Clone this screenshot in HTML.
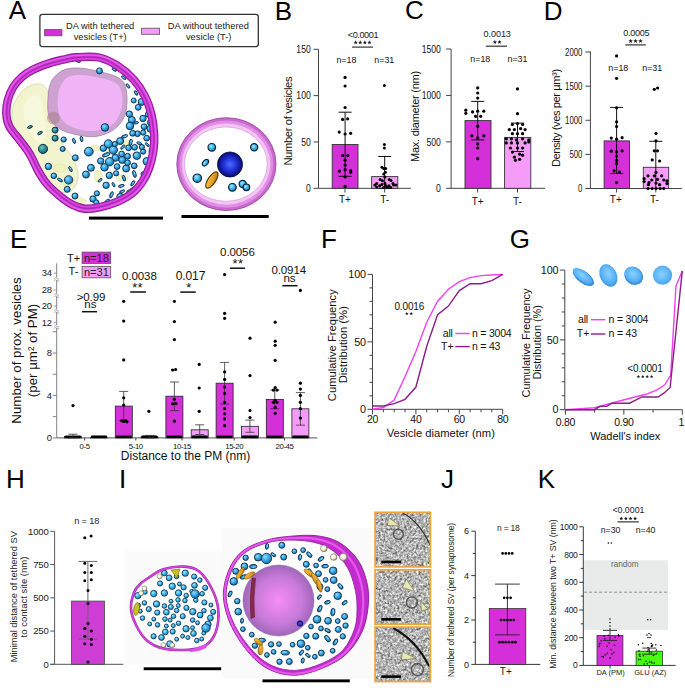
<!DOCTYPE html>
<html><head><meta charset="utf-8"><style>
html,body{margin:0;padding:0;background:#fff;overflow:hidden}
svg{display:block}
text{font-family:"Liberation Sans",sans-serif}
</style></head><body>
<svg width="685" height="688" viewBox="0 0 685 688">
<defs><radialGradient id="gBlue" cx="0.38" cy="0.35" r="0.7"><stop offset="0" stop-color="#8fdcff"/><stop offset="0.55" stop-color="#2ea0e0"/><stop offset="1" stop-color="#176a9e"/></radialGradient><radialGradient id="gCyan" cx="0.38" cy="0.35" r="0.7"><stop offset="0" stop-color="#a6ecff"/><stop offset="0.5" stop-color="#3cb6ea"/><stop offset="1" stop-color="#1b78b0"/></radialGradient><radialGradient id="gTeal" cx="0.38" cy="0.35" r="0.7"><stop offset="0" stop-color="#6fc8c0"/><stop offset="0.55" stop-color="#2a8a90"/><stop offset="1" stop-color="#1b4f5e"/></radialGradient><radialGradient id="gNavy" cx="0.5" cy="0.5" r="0.55"><stop offset="0" stop-color="#4a6cff"/><stop offset="0.45" stop-color="#2234d8"/><stop offset="0.8" stop-color="#10128a"/><stop offset="1" stop-color="#050528"/></radialGradient><radialGradient id="gNuc" cx="0.5" cy="0.5" r="0.55"><stop offset="0" stop-color="#f78cf5"/><stop offset="0.6" stop-color="#c87ad8"/><stop offset="1" stop-color="#9560b2"/></radialGradient><linearGradient id="gOr" x1="0" y1="0" x2="1" y2="1"><stop offset="0" stop-color="#ffd040"/><stop offset="0.6" stop-color="#e09a20"/><stop offset="1" stop-color="#8a5a10"/></linearGradient><radialGradient id="gBeige" cx="0.4" cy="0.4" r="0.6"><stop offset="0" stop-color="#ffffff"/><stop offset="0.6" stop-color="#f2f0d8"/><stop offset="1" stop-color="#8a8a70"/></radialGradient><radialGradient id="gSh" cx="0.45" cy="0.45" r="0.6"><stop offset="0" stop-color="#8ad2ff"/><stop offset="0.7" stop-color="#58b2f6"/><stop offset="1" stop-color="#449eea"/></radialGradient><filter id="noise" x="0" y="0" width="1" height="1" color-interpolation-filters="sRGB"><feTurbulence type="fractalNoise" baseFrequency="0.42" numOctaves="3" seed="4"/><feColorMatrix type="matrix" values="0.68 0.68 0 0 0.02  0.68 0.68 0 0 0.02  0.68 0.68 0 0 0.02  0 0 0 0 1"/></filter></defs>
<text x="8.75" y="18.80" font-size="26" fill="#000">A</text>
<text x="274.87" y="19.60" font-size="26" fill="#000">B</text>
<text x="405.07" y="19.40" font-size="26" fill="#000">C</text>
<text x="543.67" y="19.80" font-size="26" fill="#000">D</text>
<text x="9.97" y="248.00" font-size="26" fill="#000">E</text>
<text x="320.97" y="247.80" font-size="26" fill="#000">F</text>
<text x="509.80" y="247.60" font-size="26" fill="#000">G</text>
<text x="6.07" y="487.90" font-size="26" fill="#000">H</text>
<text x="118.91" y="487.70" font-size="26" fill="#000">I</text>
<text x="440.98" y="488.20" font-size="26" fill="#000">J</text>
<text x="537.87" y="488.40" font-size="26" fill="#000">K</text>
<line x1="318.50" y1="49.30" x2="318.50" y2="188.30" stroke="#444" stroke-width="1" />
<line x1="313.50" y1="188.30" x2="318.50" y2="188.30" stroke="#444" stroke-width="1" />
<text transform="translate(310.70,192.12) scale(0.79,1)" font-size="10.9" text-anchor="end" fill="#111">0</text>
<line x1="313.50" y1="141.97" x2="318.50" y2="141.97" stroke="#444" stroke-width="1" />
<text transform="translate(310.70,145.78) scale(0.79,1)" font-size="10.9" text-anchor="end" fill="#111">50</text>
<line x1="313.50" y1="95.63" x2="318.50" y2="95.63" stroke="#444" stroke-width="1" />
<text transform="translate(310.70,99.45) scale(0.79,1)" font-size="10.9" text-anchor="end" fill="#111">100</text>
<line x1="313.50" y1="49.30" x2="318.50" y2="49.30" stroke="#444" stroke-width="1" />
<text transform="translate(310.70,53.12) scale(0.79,1)" font-size="10.9" text-anchor="end" fill="#111">150</text>
<line x1="318.50" y1="188.30" x2="410.90" y2="188.30" stroke="#444" stroke-width="1" />
<rect x="332.20" y="144.50" width="25.80" height="43.80" fill="#d42fd8" stroke="#333" stroke-width="0.9" />
<rect x="371.60" y="176.60" width="26.20" height="11.70" fill="#f59cf9" stroke="#333" stroke-width="0.9" />
<line x1="345.00" y1="188.30" x2="345.00" y2="192.50" stroke="#444" stroke-width="1" />
<line x1="384.70" y1="188.30" x2="384.70" y2="192.50" stroke="#444" stroke-width="1" />
<text x="345.00" y="203.00" font-size="10" text-anchor="middle" fill="#111" >T+</text>
<text x="384.70" y="203.00" font-size="10" text-anchor="middle" fill="#111" >T-</text>
<text transform="translate(292.42,121.20) rotate(-90)" font-size="11.2" text-anchor="middle" fill="#111" letter-spacing="-0.35">Number of vesicles</text>
<text x="346.40" y="62.91" font-size="8.9" text-anchor="middle" fill="#111" >n=18</text>
<text x="384.30" y="62.91" font-size="8.9" text-anchor="middle" fill="#111" >n=31</text>
<text x="362.90" y="38.48" font-size="9.1" text-anchor="middle" fill="#222" letter-spacing="-0.4" >&lt;0.0001</text>
<polygon points="355.65,40.36 356.23,41.76 357.74,41.88 356.59,42.87 356.94,44.34 355.65,43.55 354.36,44.34 354.71,42.87 353.56,41.88 355.07,41.76" fill="#222"/>
<polygon points="360.25,40.36 360.83,41.76 362.34,41.88 361.19,42.87 361.54,44.34 360.25,43.55 358.96,44.34 359.31,42.87 358.16,41.88 359.67,41.76" fill="#222"/>
<polygon points="364.85,40.36 365.43,41.76 366.94,41.88 365.79,42.87 366.14,44.34 364.85,43.55 363.56,44.34 363.91,42.87 362.76,41.88 364.27,41.76" fill="#222"/>
<polygon points="369.45,40.36 370.03,41.76 371.54,41.88 370.39,42.87 370.74,44.34 369.45,43.55 368.16,44.34 368.51,42.87 367.36,41.88 368.87,41.76" fill="#222"/>
<line x1="352.10" y1="47.10" x2="373.00" y2="47.10" stroke="#333" stroke-width="1.2" />
<line x1="345.10" y1="112.20" x2="345.10" y2="176.30" stroke="#111" stroke-width="1" />
<line x1="338.60" y1="112.20" x2="351.60" y2="112.20" stroke="#111" stroke-width="1" />
<line x1="338.60" y1="176.30" x2="351.60" y2="176.30" stroke="#111" stroke-width="1" />
<line x1="384.70" y1="156.50" x2="384.70" y2="188.30" stroke="#111" stroke-width="1" />
<line x1="378.20" y1="156.50" x2="391.20" y2="156.50" stroke="#111" stroke-width="1" />
<line x1="378.20" y1="188.30" x2="391.20" y2="188.30" stroke="#111" stroke-width="1" />
<circle cx="345.10" cy="77.40" r="1.6" fill="#000"/>
<circle cx="345.10" cy="86.00" r="1.6" fill="#000"/>
<circle cx="345.10" cy="107.50" r="1.6" fill="#000"/>
<circle cx="342.60" cy="119.40" r="1.6" fill="#000"/>
<circle cx="347.70" cy="118.80" r="1.6" fill="#000"/>
<circle cx="339.20" cy="132.10" r="1.6" fill="#000"/>
<circle cx="345.10" cy="134.00" r="1.6" fill="#000"/>
<circle cx="350.60" cy="133.30" r="1.6" fill="#000"/>
<circle cx="342.60" cy="155.50" r="1.6" fill="#000"/>
<circle cx="347.70" cy="155.50" r="1.6" fill="#000"/>
<circle cx="345.10" cy="160.20" r="1.6" fill="#000"/>
<circle cx="345.10" cy="165.00" r="1.6" fill="#000"/>
<circle cx="339.40" cy="171.20" r="1.6" fill="#000"/>
<circle cx="345.10" cy="169.70" r="1.6" fill="#000"/>
<circle cx="350.60" cy="170.60" r="1.6" fill="#000"/>
<circle cx="350.60" cy="172.20" r="1.6" fill="#000"/>
<circle cx="345.10" cy="176.90" r="1.6" fill="#000"/>
<circle cx="345.10" cy="186.40" r="1.6" fill="#000"/>
<circle cx="384.40" cy="85.40" r="1.5" fill="#000"/>
<circle cx="384.40" cy="144.50" r="1.5" fill="#000"/>
<circle cx="384.40" cy="147.90" r="1.5" fill="#000"/>
<circle cx="381.90" cy="167.30" r="1.5" fill="#000"/>
<circle cx="383.70" cy="168.50" r="1.5" fill="#000"/>
<circle cx="385.70" cy="168.50" r="1.5" fill="#000"/>
<circle cx="385.40" cy="172.30" r="1.5" fill="#000"/>
<circle cx="383.70" cy="174.00" r="1.5" fill="#000"/>
<circle cx="384.90" cy="176.90" r="1.5" fill="#000"/>
<circle cx="380.20" cy="179.60" r="1.5" fill="#000"/>
<circle cx="382.50" cy="180.70" r="1.5" fill="#000"/>
<circle cx="389.20" cy="179.60" r="1.5" fill="#000"/>
<circle cx="391.00" cy="180.40" r="1.5" fill="#000"/>
<circle cx="376.70" cy="183.40" r="1.5" fill="#000"/>
<circle cx="374.90" cy="185.10" r="1.5" fill="#000"/>
<circle cx="376.70" cy="186.90" r="1.5" fill="#000"/>
<circle cx="379.60" cy="185.70" r="1.5" fill="#000"/>
<circle cx="381.90" cy="184.50" r="1.5" fill="#000"/>
<circle cx="384.90" cy="183.40" r="1.5" fill="#000"/>
<circle cx="386.00" cy="185.70" r="1.5" fill="#000"/>
<circle cx="383.70" cy="187.40" r="1.5" fill="#000"/>
<circle cx="387.20" cy="187.40" r="1.5" fill="#000"/>
<circle cx="389.00" cy="185.70" r="1.5" fill="#000"/>
<circle cx="390.70" cy="187.40" r="1.5" fill="#000"/>
<circle cx="393.00" cy="183.40" r="1.5" fill="#000"/>
<circle cx="393.60" cy="185.10" r="1.5" fill="#000"/>
<circle cx="396.00" cy="185.10" r="1.5" fill="#000"/>
<line x1="451.10" y1="49.00" x2="451.10" y2="188.30" stroke="#444" stroke-width="1" />
<line x1="446.10" y1="188.30" x2="451.10" y2="188.30" stroke="#444" stroke-width="1" />
<text transform="translate(440.90,192.22) scale(0.77,1)" font-size="11.2" text-anchor="end" fill="#111">0</text>
<line x1="446.10" y1="141.87" x2="451.10" y2="141.87" stroke="#444" stroke-width="1" />
<text transform="translate(440.90,145.79) scale(0.77,1)" font-size="11.2" text-anchor="end" fill="#111">500</text>
<line x1="446.10" y1="95.43" x2="451.10" y2="95.43" stroke="#444" stroke-width="1" />
<text transform="translate(440.90,99.35) scale(0.77,1)" font-size="11.2" text-anchor="end" fill="#111">1000</text>
<line x1="446.10" y1="49.00" x2="451.10" y2="49.00" stroke="#444" stroke-width="1" />
<text transform="translate(440.90,52.92) scale(0.77,1)" font-size="11.2" text-anchor="end" fill="#111">1500</text>
<line x1="451.10" y1="188.30" x2="545.00" y2="188.30" stroke="#444" stroke-width="1" />
<rect x="465.00" y="120.60" width="26.00" height="67.70" fill="#d42fd8" stroke="#333" stroke-width="0.9" />
<rect x="504.60" y="137.40" width="26.20" height="50.90" fill="#f59cf9" stroke="#333" stroke-width="0.9" />
<line x1="477.70" y1="188.30" x2="477.70" y2="192.50" stroke="#444" stroke-width="1" />
<line x1="517.50" y1="188.30" x2="517.50" y2="192.50" stroke="#444" stroke-width="1" />
<text x="477.70" y="205.10" font-size="10" text-anchor="middle" fill="#111" >T+</text>
<text x="517.50" y="205.10" font-size="10" text-anchor="middle" fill="#111" >T-</text>
<text transform="translate(419.45,116.50) rotate(-90)" font-size="11" text-anchor="middle" fill="#111" letter-spacing="-0.25">Max. diameter (nm)</text>
<text x="480.30" y="62.41" font-size="8.9" text-anchor="middle" fill="#111" >n=18</text>
<text x="517.50" y="62.41" font-size="8.9" text-anchor="middle" fill="#111" >n=31</text>
<text x="497.20" y="36.98" font-size="9.1" text-anchor="middle" fill="#222" letter-spacing="-0.1" >0.0013</text>
<polygon points="494.90,39.91 495.48,41.31 496.99,41.43 495.84,42.42 496.19,43.89 494.90,43.10 493.61,43.89 493.96,42.42 492.81,41.43 494.32,41.31" fill="#222"/>
<polygon points="499.50,39.91 500.08,41.31 501.59,41.43 500.44,42.42 500.79,43.89 499.50,43.10 498.21,43.89 498.56,42.42 497.41,41.43 498.92,41.31" fill="#222"/>
<line x1="485.80" y1="46.20" x2="507.00" y2="46.20" stroke="#333" stroke-width="1.2" />
<line x1="477.70" y1="101.40" x2="477.70" y2="139.90" stroke="#111" stroke-width="1" />
<line x1="471.20" y1="101.40" x2="484.20" y2="101.40" stroke="#111" stroke-width="1" />
<line x1="471.20" y1="139.90" x2="484.20" y2="139.90" stroke="#111" stroke-width="1" />
<line x1="517.50" y1="123.10" x2="517.50" y2="151.50" stroke="#111" stroke-width="1" />
<line x1="511.00" y1="123.10" x2="524.00" y2="123.10" stroke="#111" stroke-width="1" />
<line x1="511.00" y1="151.50" x2="524.00" y2="151.50" stroke="#111" stroke-width="1" />
<circle cx="477.70" cy="87.90" r="1.6" fill="#000"/>
<circle cx="477.70" cy="93.00" r="1.6" fill="#000"/>
<circle cx="477.70" cy="98.10" r="1.6" fill="#000"/>
<circle cx="465.80" cy="110.20" r="1.6" fill="#000"/>
<circle cx="465.80" cy="113.30" r="1.6" fill="#000"/>
<circle cx="472.60" cy="111.90" r="1.6" fill="#000"/>
<circle cx="477.70" cy="111.20" r="1.6" fill="#000"/>
<circle cx="483.80" cy="111.20" r="1.6" fill="#000"/>
<circle cx="475.60" cy="116.30" r="1.6" fill="#000"/>
<circle cx="480.70" cy="116.30" r="1.6" fill="#000"/>
<circle cx="477.70" cy="126.20" r="1.6" fill="#000"/>
<circle cx="471.90" cy="135.80" r="1.6" fill="#000"/>
<circle cx="477.70" cy="137.80" r="1.6" fill="#000"/>
<circle cx="483.80" cy="135.80" r="1.6" fill="#000"/>
<circle cx="477.70" cy="143.90" r="1.6" fill="#000"/>
<circle cx="477.70" cy="148.00" r="1.6" fill="#000"/>
<circle cx="477.70" cy="158.70" r="1.6" fill="#000"/>
<circle cx="517.50" cy="88.90" r="1.6" fill="#000"/>
<circle cx="517.50" cy="113.70" r="1.6" fill="#000"/>
<circle cx="517.50" cy="123.50" r="1.6" fill="#000"/>
<circle cx="512.40" cy="124.50" r="1.6" fill="#000"/>
<circle cx="522.60" cy="124.50" r="1.6" fill="#000"/>
<circle cx="509.30" cy="129.60" r="1.6" fill="#000"/>
<circle cx="514.40" cy="129.60" r="1.6" fill="#000"/>
<circle cx="520.60" cy="128.60" r="1.6" fill="#000"/>
<circle cx="525.10" cy="129.60" r="1.6" fill="#000"/>
<circle cx="512.40" cy="133.70" r="1.6" fill="#000"/>
<circle cx="517.50" cy="133.70" r="1.6" fill="#000"/>
<circle cx="522.60" cy="133.70" r="1.6" fill="#000"/>
<circle cx="506.30" cy="138.80" r="1.6" fill="#000"/>
<circle cx="511.40" cy="138.80" r="1.6" fill="#000"/>
<circle cx="516.50" cy="139.90" r="1.6" fill="#000"/>
<circle cx="522.60" cy="138.80" r="1.6" fill="#000"/>
<circle cx="528.80" cy="139.90" r="1.6" fill="#000"/>
<circle cx="506.30" cy="142.90" r="1.6" fill="#000"/>
<circle cx="511.40" cy="142.90" r="1.6" fill="#000"/>
<circle cx="517.50" cy="142.90" r="1.6" fill="#000"/>
<circle cx="525.10" cy="142.90" r="1.6" fill="#000"/>
<circle cx="528.80" cy="141.90" r="1.6" fill="#000"/>
<circle cx="510.40" cy="148.00" r="1.6" fill="#000"/>
<circle cx="517.50" cy="148.00" r="1.6" fill="#000"/>
<circle cx="522.60" cy="148.00" r="1.6" fill="#000"/>
<circle cx="512.40" cy="152.10" r="1.6" fill="#000"/>
<circle cx="519.60" cy="154.20" r="1.6" fill="#000"/>
<circle cx="514.40" cy="157.20" r="1.6" fill="#000"/>
<circle cx="522.60" cy="155.20" r="1.6" fill="#000"/>
<circle cx="515.50" cy="160.30" r="1.6" fill="#000"/>
<circle cx="519.60" cy="159.30" r="1.6" fill="#000"/>
<line x1="590.40" y1="51.40" x2="590.40" y2="188.50" stroke="#444" stroke-width="1" />
<line x1="585.40" y1="188.50" x2="590.40" y2="188.50" stroke="#444" stroke-width="1" />
<text transform="translate(582.40,192.14) scale(0.75,1)" font-size="10.4" text-anchor="end" fill="#111">0</text>
<line x1="585.40" y1="154.38" x2="590.40" y2="154.38" stroke="#444" stroke-width="1" />
<text transform="translate(582.40,158.01) scale(0.75,1)" font-size="10.4" text-anchor="end" fill="#111">500</text>
<line x1="585.40" y1="120.25" x2="590.40" y2="120.25" stroke="#444" stroke-width="1" />
<text transform="translate(582.40,123.89) scale(0.75,1)" font-size="10.4" text-anchor="end" fill="#111">1000</text>
<line x1="585.40" y1="86.12" x2="590.40" y2="86.12" stroke="#444" stroke-width="1" />
<text transform="translate(582.40,89.77) scale(0.75,1)" font-size="10.4" text-anchor="end" fill="#111">1500</text>
<line x1="585.40" y1="52.00" x2="590.40" y2="52.00" stroke="#444" stroke-width="1" />
<text transform="translate(582.40,55.64) scale(0.75,1)" font-size="10.4" text-anchor="end" fill="#111">2000</text>
<line x1="590.40" y1="188.50" x2="681.80" y2="188.50" stroke="#444" stroke-width="1" />
<rect x="604.10" y="140.90" width="25.40" height="47.60" fill="#d42fd8" stroke="#333" stroke-width="0.9" />
<rect x="643.30" y="167.30" width="25.40" height="21.20" fill="#f59cf9" stroke="#333" stroke-width="0.9" />
<line x1="616.60" y1="188.50" x2="616.60" y2="192.50" stroke="#444" stroke-width="1" />
<line x1="655.80" y1="188.50" x2="655.80" y2="192.50" stroke="#444" stroke-width="1" />
<text x="615.80" y="203.00" font-size="10" text-anchor="middle" fill="#111" >T+</text>
<text x="654.50" y="203.00" font-size="10" text-anchor="middle" fill="#111" >T-</text>
<text transform="translate(559.62,118.20) rotate(-90)" font-size="11.2" text-anchor="middle" fill="#111" letter-spacing="-0.45">Density (ves per µm³)</text>
<text x="618.30" y="70.81" font-size="8.9" text-anchor="middle" fill="#111" >n=18</text>
<text x="652.20" y="70.81" font-size="8.9" text-anchor="middle" fill="#111" >n=31</text>
<text x="636.20" y="36.19" font-size="9.1" text-anchor="middle" fill="#222" letter-spacing="-0.3" >0.0005</text>
<polygon points="630.65,38.63 631.28,40.16 632.93,40.29 631.68,41.36 632.06,42.97 630.65,42.11 629.24,42.97 629.62,41.36 628.37,40.29 630.02,40.16" fill="#222"/>
<polygon points="635.55,38.63 636.18,40.16 637.83,40.29 636.58,41.36 636.96,42.97 635.55,42.11 634.14,42.97 634.52,41.36 633.27,40.29 634.92,40.16" fill="#222"/>
<polygon points="640.45,38.63 641.08,40.16 642.73,40.29 641.48,41.36 641.86,42.97 640.45,42.11 639.04,42.97 639.42,41.36 638.17,40.29 639.82,40.16" fill="#222"/>
<line x1="625.30" y1="44.90" x2="645.80" y2="44.90" stroke="#333" stroke-width="1.2" />
<line x1="616.60" y1="107.40" x2="616.60" y2="173.50" stroke="#111" stroke-width="1" />
<line x1="610.10" y1="107.40" x2="623.10" y2="107.40" stroke="#111" stroke-width="1" />
<line x1="610.10" y1="173.50" x2="623.10" y2="173.50" stroke="#111" stroke-width="1" />
<line x1="655.80" y1="141.30" x2="655.80" y2="188.50" stroke="#111" stroke-width="1" />
<line x1="649.30" y1="141.30" x2="662.30" y2="141.30" stroke="#111" stroke-width="1" />
<line x1="649.30" y1="188.50" x2="662.30" y2="188.50" stroke="#111" stroke-width="1" />
<circle cx="616.60" cy="55.90" r="1.6" fill="#000"/>
<circle cx="616.60" cy="78.30" r="1.6" fill="#000"/>
<circle cx="616.60" cy="107.80" r="1.6" fill="#000"/>
<circle cx="616.60" cy="121.80" r="1.6" fill="#000"/>
<circle cx="616.60" cy="126.50" r="1.6" fill="#000"/>
<circle cx="611.30" cy="138.10" r="1.6" fill="#000"/>
<circle cx="616.60" cy="139.20" r="1.6" fill="#000"/>
<circle cx="622.10" cy="137.70" r="1.6" fill="#000"/>
<circle cx="611.30" cy="151.20" r="1.6" fill="#000"/>
<circle cx="616.60" cy="151.90" r="1.6" fill="#000"/>
<circle cx="622.10" cy="150.80" r="1.6" fill="#000"/>
<circle cx="616.60" cy="156.10" r="1.6" fill="#000"/>
<circle cx="616.60" cy="160.30" r="1.6" fill="#000"/>
<circle cx="616.60" cy="163.50" r="1.6" fill="#000"/>
<circle cx="614.10" cy="170.90" r="1.6" fill="#000"/>
<circle cx="619.40" cy="172.00" r="1.6" fill="#000"/>
<circle cx="616.60" cy="182.60" r="1.6" fill="#000"/>
<circle cx="654.30" cy="89.30" r="1.6" fill="#000"/>
<circle cx="657.60" cy="88.00" r="1.6" fill="#000"/>
<circle cx="656.00" cy="133.40" r="1.6" fill="#000"/>
<circle cx="656.00" cy="140.90" r="1.6" fill="#000"/>
<circle cx="654.30" cy="150.80" r="1.6" fill="#000"/>
<circle cx="657.50" cy="150.80" r="1.6" fill="#000"/>
<circle cx="652.20" cy="159.90" r="1.6" fill="#000"/>
<circle cx="659.60" cy="161.00" r="1.6" fill="#000"/>
<circle cx="656.00" cy="172.40" r="1.6" fill="#000"/>
<circle cx="648.00" cy="175.80" r="1.6" fill="#000"/>
<circle cx="654.30" cy="175.80" r="1.6" fill="#000"/>
<circle cx="661.70" cy="175.80" r="1.6" fill="#000"/>
<circle cx="644.10" cy="178.70" r="1.6" fill="#000"/>
<circle cx="651.80" cy="180.00" r="1.6" fill="#000"/>
<circle cx="657.50" cy="179.40" r="1.6" fill="#000"/>
<circle cx="663.80" cy="180.00" r="1.6" fill="#000"/>
<circle cx="667.00" cy="180.90" r="1.6" fill="#000"/>
<circle cx="644.10" cy="181.50" r="1.6" fill="#000"/>
<circle cx="649.00" cy="182.60" r="1.6" fill="#000"/>
<circle cx="656.00" cy="183.00" r="1.6" fill="#000"/>
<circle cx="667.00" cy="183.60" r="1.6" fill="#000"/>
<circle cx="648.00" cy="188.50" r="1.6" fill="#000"/>
<circle cx="652.20" cy="188.50" r="1.6" fill="#000"/>
<circle cx="656.00" cy="188.50" r="1.6" fill="#000"/>
<circle cx="660.20" cy="188.50" r="1.6" fill="#000"/>
<circle cx="663.80" cy="188.50" r="1.6" fill="#000"/>
<circle cx="648.40" cy="184.70" r="1.6" fill="#000"/>
<circle cx="659.60" cy="184.70" r="1.6" fill="#000"/>
<rect x="39.9" y="14.3" width="218.4" height="32.3" rx="2.5" fill="#fff" stroke="#333" stroke-width="1.3"/>
<rect x="44.60" y="29.60" width="17.30" height="6.20" fill="#d42fd8" stroke="#555" stroke-width="0.8" />
<rect x="141.60" y="28.20" width="18.00" height="6.10" fill="#f59cf9" stroke="#555" stroke-width="0.8" />
<text x="100.20" y="28.75" font-size="9.3" text-anchor="middle" fill="#222" >DA with tethered</text>
<text x="100.20" y="39.86" font-size="9.3" text-anchor="middle" fill="#222" >vesicles (T+)</text>
<text x="208.30" y="29.25" font-size="9.3" text-anchor="middle" fill="#222" >DA without tethered</text>
<text x="208.70" y="40.46" font-size="9.3" text-anchor="middle" fill="#222" >vesicle (T-)</text>
<path d="M76.29,57.29 C82.32,56.93 92.26,56.08 99.15,57.50 C106.03,58.93 111.82,62.15 117.60,65.85 C123.38,69.55 129.26,74.61 133.83,79.70 C138.39,84.79 142.08,90.66 144.99,96.37 C147.91,102.08 149.79,107.54 151.32,113.96 C152.86,120.37 153.87,128.67 154.20,134.85 C154.54,141.03 154.09,145.70 153.33,151.02 C152.56,156.34 151.42,161.67 149.62,166.76 C147.83,171.86 145.40,177.21 142.56,181.59 C139.72,185.98 136.73,189.74 132.58,193.07 C128.43,196.41 123.24,199.25 117.67,201.62 C112.10,203.99 104.62,206.11 99.16,207.29 C93.69,208.48 89.30,209.13 84.86,208.70 C80.41,208.28 76.79,206.94 72.49,204.73 C68.20,202.52 63.37,198.91 59.09,195.43 C54.81,191.95 50.29,187.91 46.83,183.86 C43.37,179.80 41.17,176.04 38.33,171.07 C35.49,166.09 32.73,158.96 29.80,154.02 C26.87,149.08 24.17,146.04 20.76,141.42 C17.34,136.80 11.70,131.05 9.29,126.30 C6.88,121.55 6.50,117.39 6.28,112.93 C6.07,108.47 6.83,103.84 7.98,99.53 C9.13,95.22 10.88,90.82 13.18,87.08 C15.49,83.33 18.45,79.99 21.81,77.06 C25.17,74.13 28.86,71.77 33.33,69.50 C37.81,67.22 43.72,65.05 48.66,63.42 C53.60,61.78 58.36,60.70 62.97,59.67 C67.57,58.65 70.26,57.65 76.29,57.29 Z" fill="#fff"/>
<path d="M16.00,100.00 C18.33,96.00 22.00,90.67 26.00,88.00 C30.00,85.33 36.33,83.33 40.00,84.00 C43.67,84.67 46.00,87.67 48.00,92.00 C50.00,96.33 50.67,103.67 52.00,110.00 C53.33,116.33 54.00,124.00 56.00,130.00 C58.00,136.00 61.00,141.00 64.00,146.00 C67.00,151.00 71.67,154.67 74.00,160.00 C76.33,165.33 78.67,172.67 78.00,178.00 C77.33,183.33 73.67,190.00 70.00,192.00 C66.33,194.00 60.17,192.33 56.00,190.00 C51.83,187.67 48.33,182.67 45.00,178.00 C41.67,173.33 39.50,167.00 36.00,162.00 C32.50,157.00 27.67,153.33 24.00,148.00 C20.33,142.67 16.00,136.00 14.00,130.00 C12.00,124.00 11.67,117.00 12.00,112.00 C12.33,107.00 13.67,104.00 16.00,100.00 Z" fill="#eef2c4" fill-opacity="0.85" stroke="#d2d8a0" stroke-width="0.8"/>
<path d="M24.00,106.00 C25.17,101.67 29.33,97.33 32.00,96.00 C34.67,94.67 38.00,94.67 40.00,98.00 C42.00,101.33 43.00,110.00 44.00,116.00 C45.00,122.00 46.67,129.67 46.00,134.00 C45.33,138.33 42.33,141.67 40.00,142.00 C37.67,142.33 34.50,139.33 32.00,136.00 C29.50,132.67 26.33,127.00 25.00,122.00 C23.67,117.00 22.83,110.33 24.00,106.00 Z" fill="#f7f9dc"/>
<ellipse cx="95" cy="148" rx="5" ry="3" fill="#eef2b8" fill-opacity="0.85" stroke="#d5da9a" stroke-width="0.5"/>
<ellipse cx="110" cy="150" rx="4" ry="3" fill="#eef2b8" fill-opacity="0.85" stroke="#d5da9a" stroke-width="0.5"/>
<ellipse cx="126" cy="143" rx="5" ry="3" fill="#eef2b8" fill-opacity="0.85" stroke="#d5da9a" stroke-width="0.5"/>
<ellipse cx="98" cy="176" rx="4" ry="6" fill="#eef2b8" fill-opacity="0.85" stroke="#d5da9a" stroke-width="0.5"/>
<ellipse cx="122" cy="178" rx="6" ry="3" fill="#eef2b8" fill-opacity="0.85" stroke="#d5da9a" stroke-width="0.5"/>
<ellipse cx="78" cy="201" rx="8" ry="3" fill="#eef2b8" fill-opacity="0.85" stroke="#d5da9a" stroke-width="0.5"/>
<ellipse cx="131" cy="123" rx="3" ry="2" fill="#eef2b8" fill-opacity="0.85" stroke="#d5da9a" stroke-width="0.5"/>
<ellipse cx="60" cy="168" rx="6" ry="4" fill="#eef2b8" fill-opacity="0.85" stroke="#d5da9a" stroke-width="0.5"/>
<ellipse cx="68" cy="182" rx="5" ry="4" fill="#eef2b8" fill-opacity="0.85" stroke="#d5da9a" stroke-width="0.5"/>
<path d="M48.40,93.80 C48.08,97.85 47.45,105.52 47.90,110.00 C48.35,114.48 48.77,117.35 51.10,120.70 C53.43,124.05 56.97,127.63 61.90,130.10 C66.83,132.57 74.88,134.47 80.70,135.50 C86.52,136.53 91.42,137.20 96.80,136.30 C102.18,135.40 108.52,133.15 113.00,130.10 C117.48,127.05 121.37,122.70 123.70,118.00 C126.03,113.30 126.77,107.28 127.00,101.90 C127.23,96.52 126.55,89.73 125.10,85.70 C123.65,81.67 122.12,79.93 118.30,77.70 C114.48,75.47 108.47,73.88 102.20,72.30 C95.93,70.72 86.97,68.65 80.70,68.20 C74.43,67.75 69.08,68.02 64.60,69.60 C60.12,71.18 56.27,75.02 53.80,77.70 C51.33,80.38 50.70,83.02 49.80,85.70 C48.90,88.38 48.72,89.75 48.40,93.80 Z" fill="#cda2d0" stroke="#a888ad" stroke-width="0.9"/>
<path d="M58.00,96.00 C57.50,100.17 57.33,106.00 58.00,110.00 C58.67,114.00 59.67,117.17 62.00,120.00 C64.33,122.83 67.67,125.17 72.00,127.00 C76.33,128.83 82.67,130.67 88.00,131.00 C93.33,131.33 99.33,130.67 104.00,129.00 C108.67,127.33 113.00,124.83 116.00,121.00 C119.00,117.17 121.17,111.17 122.00,106.00 C122.83,100.83 122.33,94.00 121.00,90.00 C119.67,86.00 117.50,84.00 114.00,82.00 C110.50,80.00 105.33,79.17 100.00,78.00 C94.67,76.83 87.33,75.17 82.00,75.00 C76.67,74.83 71.50,75.33 68.00,77.00 C64.50,78.67 62.67,81.83 61.00,85.00 C59.33,88.17 58.50,91.83 58.00,96.00 Z" fill="#f0b3f6"/>
<circle cx="53.5" cy="118" r="6.5" fill="#a88088" fill-opacity="0.55"/>
<circle cx="43.00" cy="148.90" r="4.60" fill="url(#gTeal)" stroke="#0b2b48" stroke-width="0.9"/>
<circle cx="55.10" cy="130.10" r="3.00" fill="url(#gTeal)" stroke="#0b2b48" stroke-width="0.9"/>
<circle cx="55.10" cy="138.20" r="3.00" fill="url(#gTeal)" stroke="#0b2b48" stroke-width="0.9"/>
<circle cx="63.70" cy="139.50" r="2.60" fill="url(#gBlue)" stroke="#0b2b48" stroke-width="0.9"/>
<circle cx="62.70" cy="149.00" r="2.50" fill="url(#gBlue)" stroke="#0b2b48" stroke-width="0.9"/>
<circle cx="48.40" cy="166.40" r="3.20" fill="url(#gBlue)" stroke="#0b2b48" stroke-width="0.9"/>
<circle cx="53.80" cy="175.80" r="2.80" fill="url(#gBlue)" stroke="#0b2b48" stroke-width="0.9"/>
<circle cx="68.60" cy="179.90" r="4.20" fill="url(#gBlue)" stroke="#0b2b48" stroke-width="0.9"/>
<circle cx="67.20" cy="189.30" r="3.00" fill="url(#gBlue)" stroke="#0b2b48" stroke-width="0.9"/>
<circle cx="75.30" cy="157.80" r="3.00" fill="url(#gBlue)" stroke="#0b2b48" stroke-width="0.9"/>
<circle cx="88.80" cy="151.60" r="4.40" fill="url(#gBlue)" stroke="#0b2b48" stroke-width="0.9"/>
<circle cx="90.90" cy="167.80" r="3.50" fill="url(#gBlue)" stroke="#0b2b48" stroke-width="0.9"/>
<circle cx="86.00" cy="174.50" r="3.50" fill="url(#gBlue)" stroke="#0b2b48" stroke-width="0.9"/>
<circle cx="104.90" cy="127.40" r="3.80" fill="url(#gBlue)" stroke="#0b2b48" stroke-width="0.9"/>
<circle cx="99.50" cy="70.90" r="3.00" fill="url(#gBlue)" stroke="#0b2b48" stroke-width="0.9"/>
<circle cx="133.70" cy="100.50" r="2.50" fill="url(#gBlue)" stroke="#0b2b48" stroke-width="0.9"/>
<circle cx="141.70" cy="101.90" r="3.50" fill="url(#gBlue)" stroke="#0b2b48" stroke-width="0.9"/>
<circle cx="75.00" cy="196.00" r="3.00" fill="url(#gBlue)" stroke="#0b2b48" stroke-width="0.9"/>
<circle cx="93.00" cy="199.00" r="3.20" fill="url(#gBlue)" stroke="#0b2b48" stroke-width="0.9"/>
<circle cx="108.00" cy="205.00" r="3.00" fill="url(#gBlue)" stroke="#0b2b48" stroke-width="0.9"/>
<circle cx="63.00" cy="200.00" r="2.40" fill="url(#gBlue)" stroke="#0b2b48" stroke-width="0.9"/>
<ellipse cx="70.50" cy="169.10" rx="2.80" ry="1.30" transform="rotate(60.0 70.50 169.10)" fill="url(#gBlue)" stroke="#0b2b48" stroke-width="0.8"/>
<ellipse cx="74.00" cy="140.90" rx="2.80" ry="1.30" transform="rotate(70.0 74.00 140.90)" fill="url(#gBlue)" stroke="#0b2b48" stroke-width="0.8"/>
<ellipse cx="81.50" cy="139.00" rx="2.80" ry="1.30" transform="rotate(80.0 81.50 139.00)" fill="url(#gBlue)" stroke="#0b2b48" stroke-width="0.8"/>
<ellipse cx="60.00" cy="180.00" rx="2.80" ry="1.30" transform="rotate(30.0 60.00 180.00)" fill="url(#gBlue)" stroke="#0b2b48" stroke-width="0.8"/>
<circle cx="122.14" cy="159.90" r="3.50" fill="url(#gBlue)" stroke="#0b2b48" stroke-width="0.9"/>
<ellipse cx="122.11" cy="191.49" rx="2.75" ry="1.22" transform="rotate(157.1 122.11 191.49)" fill="url(#gBlue)" stroke="#0b2b48" stroke-width="0.8"/>
<ellipse cx="106.08" cy="154.77" rx="3.99" ry="1.76" transform="rotate(158.9 106.08 154.77)" fill="url(#gBlue)" stroke="#0b2b48" stroke-width="0.8"/>
<circle cx="131.84" cy="119.92" r="3.50" fill="url(#gBlue)" stroke="#0b2b48" stroke-width="0.9"/>
<circle cx="143.58" cy="174.20" r="2.60" fill="url(#gBlue)" stroke="#0b2b48" stroke-width="0.9"/>
<ellipse cx="130.73" cy="142.39" rx="3.32" ry="1.47" transform="rotate(102.5 130.73 142.39)" fill="url(#gBlue)" stroke="#0b2b48" stroke-width="0.8"/>
<circle cx="134.24" cy="165.87" r="2.90" fill="url(#gBlue)" stroke="#0b2b48" stroke-width="0.9"/>
<ellipse cx="132.39" cy="188.99" rx="2.47" ry="1.09" transform="rotate(164.7 132.39 188.99)" fill="url(#gBlue)" stroke="#0b2b48" stroke-width="0.8"/>
<ellipse cx="122.84" cy="147.14" rx="2.75" ry="1.22" transform="rotate(134.2 122.84 147.14)" fill="url(#gBlue)" stroke="#0b2b48" stroke-width="0.8"/>
<circle cx="126.15" cy="168.51" r="3.50" fill="url(#gBlue)" stroke="#0b2b48" stroke-width="0.9"/>
<circle cx="137.47" cy="133.73" r="2.90" fill="url(#gBlue)" stroke="#0b2b48" stroke-width="0.9"/>
<ellipse cx="136.09" cy="122.84" rx="2.47" ry="1.09" transform="rotate(168.1 136.09 122.84)" fill="url(#gBlue)" stroke="#0b2b48" stroke-width="0.8"/>
<ellipse cx="132.77" cy="183.30" rx="3.04" ry="1.34" transform="rotate(123.3 132.77 183.30)" fill="url(#gBlue)" stroke="#0b2b48" stroke-width="0.8"/>
<circle cx="128.56" cy="147.87" r="2.90" fill="url(#gBlue)" stroke="#0b2b48" stroke-width="0.9"/>
<circle cx="120.15" cy="141.06" r="3.50" fill="url(#gBlue)" stroke="#0b2b48" stroke-width="0.9"/>
<circle cx="143.20" cy="132.54" r="2.60" fill="url(#gBlue)" stroke="#0b2b48" stroke-width="0.9"/>
<ellipse cx="146.26" cy="168.68" rx="2.47" ry="1.09" transform="rotate(107.6 146.26 168.68)" fill="url(#gBlue)" stroke="#0b2b48" stroke-width="0.8"/>
<circle cx="129.96" cy="126.00" r="3.80" fill="url(#gBlue)" stroke="#0b2b48" stroke-width="0.9"/>
<circle cx="117.12" cy="166.57" r="2.90" fill="url(#gBlue)" stroke="#0b2b48" stroke-width="0.9"/>
<circle cx="129.47" cy="192.72" r="2.90" fill="url(#gBlue)" stroke="#0b2b48" stroke-width="0.9"/>
<circle cx="132.63" cy="133.26" r="2.90" fill="url(#gBlue)" stroke="#0b2b48" stroke-width="0.9"/>
<circle cx="144.07" cy="126.70" r="2.90" fill="url(#gBlue)" stroke="#0b2b48" stroke-width="0.9"/>
<circle cx="104.51" cy="167.30" r="3.80" fill="url(#gBlue)" stroke="#0b2b48" stroke-width="0.9"/>
<ellipse cx="106.80" cy="201.66" rx="3.32" ry="1.47" transform="rotate(136.1 106.80 201.66)" fill="url(#gBlue)" stroke="#0b2b48" stroke-width="0.8"/>
<circle cx="109.30" cy="175.39" r="3.20" fill="url(#gBlue)" stroke="#0b2b48" stroke-width="0.9"/>
<circle cx="120.25" cy="196.82" r="3.50" fill="url(#gBlue)" stroke="#0b2b48" stroke-width="0.9"/>
<circle cx="138.22" cy="107.36" r="2.90" fill="url(#gBlue)" stroke="#0b2b48" stroke-width="0.9"/>
<circle cx="129.33" cy="114.08" r="3.20" fill="url(#gBlue)" stroke="#0b2b48" stroke-width="0.9"/>
<circle cx="103.30" cy="148.19" r="3.20" fill="url(#gBlue)" stroke="#0b2b48" stroke-width="0.9"/>
<ellipse cx="134.42" cy="173.96" rx="3.61" ry="1.60" transform="rotate(74.2 134.42 173.96)" fill="url(#gBlue)" stroke="#0b2b48" stroke-width="0.8"/>
<ellipse cx="150.42" cy="150.80" rx="3.04" ry="1.34" transform="rotate(95.0 150.42 150.80)" fill="url(#gBlue)" stroke="#0b2b48" stroke-width="0.8"/>
<ellipse cx="123.93" cy="178.16" rx="3.04" ry="1.34" transform="rotate(73.0 123.93 178.16)" fill="url(#gBlue)" stroke="#0b2b48" stroke-width="0.8"/>
<circle cx="116.11" cy="173.31" r="2.60" fill="url(#gBlue)" stroke="#0b2b48" stroke-width="0.9"/>
<ellipse cx="147.27" cy="144.64" rx="2.47" ry="1.09" transform="rotate(43.9 147.27 144.64)" fill="url(#gBlue)" stroke="#0b2b48" stroke-width="0.8"/>
<circle cx="146.81" cy="161.29" r="3.80" fill="url(#gBlue)" stroke="#0b2b48" stroke-width="0.9"/>
<ellipse cx="100.03" cy="180.27" rx="2.47" ry="1.09" transform="rotate(141.1 100.03 180.27)" fill="url(#gBlue)" stroke="#0b2b48" stroke-width="0.8"/>
<circle cx="96.34" cy="202.44" r="2.60" fill="url(#gBlue)" stroke="#0b2b48" stroke-width="0.9"/>
<circle cx="134.60" cy="147.29" r="2.90" fill="url(#gBlue)" stroke="#0b2b48" stroke-width="0.9"/>
<circle cx="150.25" cy="122.46" r="2.90" fill="url(#gBlue)" stroke="#0b2b48" stroke-width="0.9"/>
<circle cx="96.89" cy="193.39" r="2.60" fill="url(#gBlue)" stroke="#0b2b48" stroke-width="0.9"/>
<ellipse cx="113.54" cy="184.69" rx="2.47" ry="1.09" transform="rotate(62.2 113.54 184.69)" fill="url(#gBlue)" stroke="#0b2b48" stroke-width="0.8"/>
<circle cx="136.84" cy="155.69" r="3.80" fill="url(#gBlue)" stroke="#0b2b48" stroke-width="0.9"/>
<circle cx="108.44" cy="143.92" r="4.20" fill="url(#gBlue)" stroke="#0b2b48" stroke-width="0.9"/>
<circle cx="142.99" cy="118.50" r="3.20" fill="url(#gBlue)" stroke="#0b2b48" stroke-width="0.9"/>
<circle cx="150.41" cy="128.81" r="3.50" fill="url(#gBlue)" stroke="#0b2b48" stroke-width="0.9"/>
<ellipse cx="124.58" cy="136.35" rx="3.32" ry="1.47" transform="rotate(160.1 124.58 136.35)" fill="url(#gBlue)" stroke="#0b2b48" stroke-width="0.8"/>
<circle cx="127.58" cy="162.77" r="2.90" fill="url(#gBlue)" stroke="#0b2b48" stroke-width="0.9"/>
<circle cx="148.25" cy="114.33" r="2.90" fill="url(#gBlue)" stroke="#0b2b48" stroke-width="0.9"/>
<circle cx="100.76" cy="160.98" r="3.20" fill="url(#gBlue)" stroke="#0b2b48" stroke-width="0.9"/>
<circle cx="143.17" cy="151.58" r="2.60" fill="url(#gBlue)" stroke="#0b2b48" stroke-width="0.9"/>
<ellipse cx="139.36" cy="143.37" rx="2.75" ry="1.22" transform="rotate(20.6 139.36 143.37)" fill="url(#gBlue)" stroke="#0b2b48" stroke-width="0.8"/>
<circle cx="106.09" cy="185.31" r="3.20" fill="url(#gBlue)" stroke="#0b2b48" stroke-width="0.9"/>
<circle cx="121.62" cy="154.01" r="2.90" fill="url(#gBlue)" stroke="#0b2b48" stroke-width="0.9"/>
<circle cx="115.45" cy="157.83" r="3.50" fill="url(#gBlue)" stroke="#0b2b48" stroke-width="0.9"/>
<circle cx="146.67" cy="138.17" r="2.90" fill="url(#gBlue)" stroke="#0b2b48" stroke-width="0.9"/>
<ellipse cx="121.28" cy="185.93" rx="3.04" ry="1.34" transform="rotate(163.3 121.28 185.93)" fill="url(#gBlue)" stroke="#0b2b48" stroke-width="0.8"/>
<ellipse cx="111.44" cy="194.81" rx="3.32" ry="1.47" transform="rotate(110.9 111.44 194.81)" fill="url(#gBlue)" stroke="#0b2b48" stroke-width="0.8"/>
<circle cx="141.89" cy="147.10" r="2.60" fill="url(#gBlue)" stroke="#0b2b48" stroke-width="0.9"/>
<circle cx="127.60" cy="156.25" r="2.90" fill="url(#gBlue)" stroke="#0b2b48" stroke-width="0.9"/>
<circle cx="113.34" cy="149.99" r="4.20" fill="url(#gBlue)" stroke="#0b2b48" stroke-width="0.9"/>
<circle cx="114.88" cy="144.10" r="2.60" fill="url(#gBlue)" stroke="#0b2b48" stroke-width="0.9"/>
<circle cx="109.68" cy="161.68" r="4.20" fill="url(#gBlue)" stroke="#0b2b48" stroke-width="0.9"/>
<ellipse cx="78.00" cy="61.00" rx="2.60" ry="1.20" transform="rotate(20.0 78.00 61.00)" fill="url(#gBlue)" stroke="#0b2b48" stroke-width="0.8"/>
<ellipse cx="103.50" cy="61.50" rx="2.60" ry="1.20" transform="rotate(15.0 103.50 61.50)" fill="url(#gBlue)" stroke="#0b2b48" stroke-width="0.8"/>
<ellipse cx="114.30" cy="69.60" rx="2.60" ry="1.20" transform="rotate(30.0 114.30 69.60)" fill="url(#gBlue)" stroke="#0b2b48" stroke-width="0.8"/>
<ellipse cx="123.70" cy="77.70" rx="2.60" ry="1.20" transform="rotate(40.0 123.70 77.70)" fill="url(#gBlue)" stroke="#0b2b48" stroke-width="0.8"/>
<ellipse cx="128.00" cy="86.00" rx="2.60" ry="1.20" transform="rotate(50.0 128.00 86.00)" fill="url(#gBlue)" stroke="#0b2b48" stroke-width="0.8"/>
<ellipse cx="30.00" cy="127.00" rx="2.60" ry="1.20" transform="rotate(-20.0 30.00 127.00)" fill="url(#gTeal)" stroke="#0b2b48" stroke-width="0.8"/>
<ellipse cx="40.00" cy="133.00" rx="2.60" ry="1.20" transform="rotate(-30.0 40.00 133.00)" fill="url(#gTeal)" stroke="#0b2b48" stroke-width="0.8"/>
<ellipse cx="136.00" cy="93.00" rx="2.60" ry="1.20" transform="rotate(60.0 136.00 93.00)" fill="url(#gBlue)" stroke="#0b2b48" stroke-width="0.8"/>
<path d="M76.29,57.29 C82.32,56.93 92.26,56.08 99.15,57.50 C106.03,58.93 111.82,62.15 117.60,65.85 C123.38,69.55 129.26,74.61 133.83,79.70 C138.39,84.79 142.08,90.66 144.99,96.37 C147.91,102.08 149.79,107.54 151.32,113.96 C152.86,120.37 153.87,128.67 154.20,134.85 C154.54,141.03 154.09,145.70 153.33,151.02 C152.56,156.34 151.42,161.67 149.62,166.76 C147.83,171.86 145.40,177.21 142.56,181.59 C139.72,185.98 136.73,189.74 132.58,193.07 C128.43,196.41 123.24,199.25 117.67,201.62 C112.10,203.99 104.62,206.11 99.16,207.29 C93.69,208.48 89.30,209.13 84.86,208.70 C80.41,208.28 76.79,206.94 72.49,204.73 C68.20,202.52 63.37,198.91 59.09,195.43 C54.81,191.95 50.29,187.91 46.83,183.86 C43.37,179.80 41.17,176.04 38.33,171.07 C35.49,166.09 32.73,158.96 29.80,154.02 C26.87,149.08 24.17,146.04 20.76,141.42 C17.34,136.80 11.70,131.05 9.29,126.30 C6.88,121.55 6.50,117.39 6.28,112.93 C6.07,108.47 6.83,103.84 7.98,99.53 C9.13,95.22 10.88,90.82 13.18,87.08 C15.49,83.33 18.45,79.99 21.81,77.06 C25.17,74.13 28.86,71.77 33.33,69.50 C37.81,67.22 43.72,65.05 48.66,63.42 C53.60,61.78 58.36,60.70 62.97,59.67 C67.57,58.65 70.26,57.65 76.29,57.29 Z" fill="none" stroke="#8a1894" stroke-width="8.4"/>
<path d="M76.29,57.29 C82.32,56.93 92.26,56.08 99.15,57.50 C106.03,58.93 111.82,62.15 117.60,65.85 C123.38,69.55 129.26,74.61 133.83,79.70 C138.39,84.79 142.08,90.66 144.99,96.37 C147.91,102.08 149.79,107.54 151.32,113.96 C152.86,120.37 153.87,128.67 154.20,134.85 C154.54,141.03 154.09,145.70 153.33,151.02 C152.56,156.34 151.42,161.67 149.62,166.76 C147.83,171.86 145.40,177.21 142.56,181.59 C139.72,185.98 136.73,189.74 132.58,193.07 C128.43,196.41 123.24,199.25 117.67,201.62 C112.10,203.99 104.62,206.11 99.16,207.29 C93.69,208.48 89.30,209.13 84.86,208.70 C80.41,208.28 76.79,206.94 72.49,204.73 C68.20,202.52 63.37,198.91 59.09,195.43 C54.81,191.95 50.29,187.91 46.83,183.86 C43.37,179.80 41.17,176.04 38.33,171.07 C35.49,166.09 32.73,158.96 29.80,154.02 C26.87,149.08 24.17,146.04 20.76,141.42 C17.34,136.80 11.70,131.05 9.29,126.30 C6.88,121.55 6.50,117.39 6.28,112.93 C6.07,108.47 6.83,103.84 7.98,99.53 C9.13,95.22 10.88,90.82 13.18,87.08 C15.49,83.33 18.45,79.99 21.81,77.06 C25.17,74.13 28.86,71.77 33.33,69.50 C37.81,67.22 43.72,65.05 48.66,63.42 C53.60,61.78 58.36,60.70 62.97,59.67 C67.57,58.65 70.26,57.65 76.29,57.29 Z" fill="none" stroke="#c732cf" stroke-width="6.6"/>
<path d="M76.15,55.49 C82.33,55.13 92.50,54.29 99.55,55.75 C106.60,57.21 112.53,60.48 118.45,64.26 C124.38,68.04 130.41,73.22 135.09,78.42 C139.78,83.62 143.56,89.64 146.56,95.48 C149.55,101.33 151.49,106.93 153.06,113.50 C154.64,120.08 155.67,128.59 156.00,134.92 C156.34,141.25 155.86,146.04 155.07,151.48 C154.27,156.93 153.07,162.38 151.22,167.59 C149.37,172.79 146.87,178.25 143.95,182.73 C141.04,187.21 137.97,191.05 133.72,194.46 C129.48,197.87 124.18,200.79 118.49,203.22 C112.79,205.65 105.15,207.84 99.56,209.05 C93.96,210.26 89.47,210.92 84.93,210.50 C80.38,210.08 76.67,208.75 72.26,206.52 C67.85,204.29 62.89,200.65 58.48,197.12 C54.07,193.59 49.40,189.49 45.82,185.34 C42.24,181.20 39.94,177.37 36.99,172.27 C34.04,167.16 31.15,159.82 28.14,154.72 C25.14,149.63 22.42,146.46 18.98,141.70 C15.54,136.93 9.90,131.02 7.49,126.16 C5.09,121.29 4.73,117.05 4.54,112.49 C4.35,107.93 5.14,103.20 6.33,98.80 C7.52,94.40 9.32,89.92 11.67,86.09 C14.03,82.27 17.05,78.85 20.48,75.85 C23.90,72.85 27.66,70.42 32.23,68.08 C36.79,65.74 42.83,63.49 47.87,61.80 C52.92,60.11 57.80,58.98 62.51,57.93 C67.22,56.88 69.98,55.86 76.15,55.49 Z" fill="none" stroke="#e55aec" stroke-width="1.6"/>
<path d="M76.32,57.69 C82.32,57.33 92.21,56.47 99.06,57.89 C105.91,59.31 111.66,62.52 117.41,66.20 C123.16,69.88 129.00,74.92 133.54,79.98 C138.08,85.04 141.75,90.89 144.64,96.57 C147.54,102.25 149.41,107.68 150.94,114.06 C152.46,120.44 153.47,128.69 153.80,134.83 C154.14,140.98 153.70,145.63 152.94,150.92 C152.19,156.21 151.05,161.51 149.26,166.58 C147.48,171.65 145.07,176.97 142.25,181.34 C139.43,185.70 136.45,189.44 132.32,192.77 C128.19,196.09 123.03,198.91 117.48,201.26 C111.94,203.62 104.51,205.73 99.07,206.90 C93.63,208.08 89.26,208.73 84.84,208.30 C80.42,207.87 76.81,206.54 72.54,204.34 C68.27,202.13 63.47,198.52 59.23,195.05 C54.98,191.58 50.49,187.57 47.06,183.52 C43.62,179.48 41.44,175.74 38.63,170.80 C35.82,165.86 33.08,158.77 30.17,153.87 C27.26,148.96 24.56,145.95 21.15,141.36 C17.74,136.77 12.10,131.05 9.69,126.33 C7.27,121.61 6.90,117.47 6.67,113.03 C6.45,108.59 7.21,103.98 8.35,99.69 C9.49,95.40 11.22,91.02 13.52,87.30 C15.81,83.57 18.76,80.24 22.10,77.33 C25.45,74.42 29.12,72.07 33.58,69.81 C38.04,67.55 43.92,65.40 48.84,63.78 C53.75,62.15 58.49,61.08 63.07,60.06 C67.65,59.05 70.32,58.05 76.32,57.69 Z" fill="none" stroke="#9a22a3" stroke-width="0.7"/>
<path d="M76.44,59.28 C82.31,58.92 92.00,58.06 98.70,59.45 C105.40,60.84 111.03,64.00 116.65,67.61 C122.27,71.22 127.98,76.16 132.42,81.12 C136.85,86.08 140.42,91.80 143.25,97.36 C146.08,102.91 147.89,108.22 149.39,114.46 C150.88,120.70 151.87,128.76 152.20,134.77 C152.54,140.78 152.12,145.33 151.40,150.51 C150.67,155.69 149.57,160.88 147.84,165.85 C146.11,170.82 143.77,176.04 141.01,180.33 C138.26,184.61 135.34,188.28 131.30,191.53 C127.26,194.79 122.19,197.54 116.76,199.84 C111.32,202.14 104.04,204.20 98.71,205.34 C93.38,206.49 89.11,207.14 84.78,206.70 C80.46,206.27 76.92,204.94 72.75,202.75 C68.58,200.56 63.90,196.97 59.77,193.54 C55.64,190.12 51.28,186.17 47.96,182.20 C44.63,178.23 42.54,174.56 39.82,169.73 C37.10,164.91 34.49,158.01 31.64,153.25 C28.80,148.48 26.13,145.58 22.73,141.12 C19.34,136.65 13.70,131.07 11.28,126.45 C8.86,121.84 8.47,117.77 8.22,113.42 C7.98,109.06 8.71,104.54 9.81,100.33 C10.92,96.12 12.61,91.82 14.86,88.17 C17.10,84.52 20.00,81.26 23.28,78.41 C26.57,75.56 30.19,73.28 34.56,71.08 C38.94,68.88 44.72,66.79 49.54,65.22 C54.35,63.64 58.99,62.60 63.48,61.61 C67.96,60.62 70.57,59.64 76.44,59.28 Z" fill="none" stroke="#d84fe0" stroke-width="1.0"/>
<rect x="89.00" y="216.60" width="74.00" height="3.00" fill="#000" stroke="none" stroke-width="1" />
<ellipse cx="226.4" cy="164.1" rx="49.6" ry="46.4" fill="#c869cd" stroke="#a04aa8" stroke-width="0.9"/>
<ellipse cx="226.3" cy="164.1" rx="46.8" ry="43.6" fill="#e08ee6"/>
<ellipse cx="226.1" cy="164.1" rx="44.2" ry="40.6" fill="#f3c4f5"/>
<ellipse cx="225.9" cy="164.1" rx="41.4" ry="37.2" fill="#fff" stroke="#d9a2dc" stroke-width="0.8"/>
<circle cx="230.00" cy="164.50" r="12.60" fill="url(#gNavy)" stroke="#0a0a40" stroke-width="0.7"/>
<circle cx="211.80" cy="147.30" r="3.80" fill="url(#gCyan)" stroke="#08203a" stroke-width="1.2"/>
<circle cx="254.20" cy="147.30" r="3.60" fill="url(#gCyan)" stroke="#08203a" stroke-width="1.2"/>
<circle cx="197.30" cy="178.20" r="4.20" fill="url(#gCyan)" stroke="#08203a" stroke-width="1.2"/>
<circle cx="232.40" cy="187.30" r="3.80" fill="url(#gCyan)" stroke="#08203a" stroke-width="1.2"/>
<circle cx="242.70" cy="184.00" r="3.60" fill="url(#gCyan)" stroke="#08203a" stroke-width="1.2"/>
<circle cx="246.40" cy="187.30" r="3.30" fill="url(#gCyan)" stroke="#08203a" stroke-width="1.2"/>
<ellipse cx="205.50" cy="162.70" rx="3.80" ry="2.40" transform="rotate(-50.0 205.50 162.70)" fill="url(#gCyan)" stroke="#08203a" stroke-width="1.1"/>
<ellipse cx="211.9" cy="180" rx="9.6" ry="3.8" transform="rotate(-56 211.9 180)" fill="url(#gOr)" stroke="#4a2e04" stroke-width="1"/>
<rect x="181.50" y="215.00" width="87.20" height="3.00" fill="#000" stroke="none" stroke-width="1" />
<line x1="56.70" y1="263.30" x2="56.70" y2="437.90" stroke="#777" stroke-width="0.9" />
<line x1="52.70" y1="437.90" x2="56.70" y2="437.90" stroke="#777" stroke-width="0.9" />
<text x="51.50" y="441.19" font-size="9.4" text-anchor="end" fill="#222" letter-spacing="-0.35" >0</text>
<line x1="52.70" y1="416.67" x2="56.70" y2="416.67" stroke="#777" stroke-width="0.9" />
<line x1="52.70" y1="395.45" x2="56.70" y2="395.45" stroke="#777" stroke-width="0.9" />
<text x="51.50" y="398.74" font-size="9.4" text-anchor="end" fill="#222" letter-spacing="-0.35" >4</text>
<line x1="52.70" y1="374.23" x2="56.70" y2="374.23" stroke="#777" stroke-width="0.9" />
<line x1="52.70" y1="353.00" x2="56.70" y2="353.00" stroke="#777" stroke-width="0.9" />
<text x="51.50" y="356.29" font-size="9.4" text-anchor="end" fill="#222" letter-spacing="-0.35" >8</text>
<line x1="52.70" y1="331.77" x2="56.70" y2="331.77" stroke="#777" stroke-width="0.9" />
<line x1="53.70" y1="322.30" x2="56.70" y2="322.30" stroke="#888" stroke-width="0.8" />
<text x="51.50" y="325.59" font-size="9.4" text-anchor="end" fill="#222" letter-spacing="-0.35" >12</text>
<line x1="53.70" y1="306.00" x2="56.70" y2="306.00" stroke="#888" stroke-width="0.8" />
<text x="51.50" y="309.29" font-size="9.4" text-anchor="end" fill="#222" letter-spacing="-0.35" >20</text>
<line x1="53.70" y1="290.00" x2="56.70" y2="290.00" stroke="#888" stroke-width="0.8" />
<text x="51.50" y="293.29" font-size="9.4" text-anchor="end" fill="#222" letter-spacing="-0.35" >28</text>
<line x1="53.70" y1="273.20" x2="56.70" y2="273.20" stroke="#888" stroke-width="0.8" />
<text x="51.50" y="276.49" font-size="9.4" text-anchor="end" fill="#222" letter-spacing="-0.35" >34</text>
<rect x="53.7" y="277.6" width="6" height="2.4" fill="#fff"/>
<path d="M54.2,278.5 q1.2,-1.6 2.5,0 t2.5,0 M54.2,280.5 q1.2,-1.6 2.5,0 t2.5,0" fill="none" stroke="#888" stroke-width="0.7"/>
<rect x="53.7" y="293.90000000000003" width="6" height="2.4" fill="#fff"/>
<path d="M54.2,294.8 q1.2,-1.6 2.5,0 t2.5,0 M54.2,296.8 q1.2,-1.6 2.5,0 t2.5,0" fill="none" stroke="#888" stroke-width="0.7"/>
<rect x="53.7" y="309.6" width="6" height="2.4" fill="#fff"/>
<path d="M54.2,310.5 q1.2,-1.6 2.5,0 t2.5,0 M54.2,312.5 q1.2,-1.6 2.5,0 t2.5,0" fill="none" stroke="#888" stroke-width="0.7"/>
<rect x="53.7" y="325.40000000000003" width="6" height="2.4" fill="#fff"/>
<path d="M54.2,326.3 q1.2,-1.6 2.5,0 t2.5,0 M54.2,328.3 q1.2,-1.6 2.5,0 t2.5,0" fill="none" stroke="#888" stroke-width="0.7"/>
<line x1="56.70" y1="437.90" x2="317.40" y2="437.90" stroke="#555" stroke-width="1" />
<text transform="translate(20.55,350.50) rotate(-90)" font-size="13.3" text-anchor="middle" fill="#111">Number of prox. vesicles</text>
<text transform="translate(36.66,350.50) rotate(-90)" font-size="13.3" text-anchor="middle" fill="#111">(per µm² of PM)</text>
<text x="185.50" y="459.70" font-size="12" text-anchor="middle" fill="#111" >Distance to the PM (nm)</text>
<rect x="64.50" y="436.30" width="17.00" height="1.60" fill="#d42fd8" stroke="#222" stroke-width="0.8" />
<rect x="90.50" y="437.60" width="17.00" height="0.30" fill="#f59cf9" stroke="#222" stroke-width="0.8" />
<text x="84.60" y="448.73" font-size="7.8" text-anchor="middle" fill="#111" letter-spacing="-0.4" >0-5</text>
<line x1="84.60" y1="437.90" x2="84.60" y2="440.50" stroke="#444" stroke-width="1" />
<circle cx="66.40" cy="436.80" r="1.35" fill="#000"/>
<circle cx="68.29" cy="436.80" r="1.35" fill="#000"/>
<circle cx="70.17" cy="436.80" r="1.35" fill="#000"/>
<circle cx="72.06" cy="436.80" r="1.35" fill="#000"/>
<circle cx="73.94" cy="436.80" r="1.35" fill="#000"/>
<circle cx="75.83" cy="436.80" r="1.35" fill="#000"/>
<circle cx="77.71" cy="436.80" r="1.35" fill="#000"/>
<circle cx="79.60" cy="436.80" r="1.35" fill="#000"/>
<circle cx="92.10" cy="436.80" r="1.35" fill="#000"/>
<circle cx="93.35" cy="436.80" r="1.35" fill="#000"/>
<circle cx="94.61" cy="436.80" r="1.35" fill="#000"/>
<circle cx="95.86" cy="436.80" r="1.35" fill="#000"/>
<circle cx="97.12" cy="436.80" r="1.35" fill="#000"/>
<circle cx="98.37" cy="436.80" r="1.35" fill="#000"/>
<circle cx="99.63" cy="436.80" r="1.35" fill="#000"/>
<circle cx="100.88" cy="436.80" r="1.35" fill="#000"/>
<circle cx="102.14" cy="436.80" r="1.35" fill="#000"/>
<circle cx="103.39" cy="436.80" r="1.35" fill="#000"/>
<circle cx="104.65" cy="436.80" r="1.35" fill="#000"/>
<circle cx="105.90" cy="436.80" r="1.35" fill="#000"/>
<rect x="115.30" y="406.10" width="17.00" height="31.80" fill="#d42fd8" stroke="#222" stroke-width="0.8" />
<rect x="141.00" y="437.00" width="17.00" height="0.90" fill="#f59cf9" stroke="#222" stroke-width="0.8" />
<text x="135.80" y="448.73" font-size="7.8" text-anchor="middle" fill="#111" letter-spacing="-0.4" >5-10</text>
<line x1="135.80" y1="437.90" x2="135.80" y2="440.50" stroke="#444" stroke-width="1" />
<circle cx="117.20" cy="436.80" r="1.35" fill="#000"/>
<circle cx="119.09" cy="436.80" r="1.35" fill="#000"/>
<circle cx="120.97" cy="436.80" r="1.35" fill="#000"/>
<circle cx="122.86" cy="436.80" r="1.35" fill="#000"/>
<circle cx="124.74" cy="436.80" r="1.35" fill="#000"/>
<circle cx="126.63" cy="436.80" r="1.35" fill="#000"/>
<circle cx="128.51" cy="436.80" r="1.35" fill="#000"/>
<circle cx="130.40" cy="436.80" r="1.35" fill="#000"/>
<circle cx="142.60" cy="436.80" r="1.35" fill="#000"/>
<circle cx="143.85" cy="436.80" r="1.35" fill="#000"/>
<circle cx="145.11" cy="436.80" r="1.35" fill="#000"/>
<circle cx="146.36" cy="436.80" r="1.35" fill="#000"/>
<circle cx="147.62" cy="436.80" r="1.35" fill="#000"/>
<circle cx="148.87" cy="436.80" r="1.35" fill="#000"/>
<circle cx="150.13" cy="436.80" r="1.35" fill="#000"/>
<circle cx="151.38" cy="436.80" r="1.35" fill="#000"/>
<circle cx="152.64" cy="436.80" r="1.35" fill="#000"/>
<circle cx="153.89" cy="436.80" r="1.35" fill="#000"/>
<circle cx="155.15" cy="436.80" r="1.35" fill="#000"/>
<circle cx="156.40" cy="436.80" r="1.35" fill="#000"/>
<rect x="165.90" y="396.20" width="17.00" height="41.70" fill="#d42fd8" stroke="#222" stroke-width="0.8" />
<rect x="191.20" y="429.80" width="17.00" height="8.10" fill="#f59cf9" stroke="#222" stroke-width="0.8" />
<text x="182.00" y="448.73" font-size="7.8" text-anchor="middle" fill="#111" letter-spacing="-0.4" >10-15</text>
<line x1="182.00" y1="437.90" x2="182.00" y2="440.50" stroke="#444" stroke-width="1" />
<circle cx="167.80" cy="436.80" r="1.35" fill="#000"/>
<circle cx="169.69" cy="436.80" r="1.35" fill="#000"/>
<circle cx="171.57" cy="436.80" r="1.35" fill="#000"/>
<circle cx="173.46" cy="436.80" r="1.35" fill="#000"/>
<circle cx="175.34" cy="436.80" r="1.35" fill="#000"/>
<circle cx="177.23" cy="436.80" r="1.35" fill="#000"/>
<circle cx="179.11" cy="436.80" r="1.35" fill="#000"/>
<circle cx="181.00" cy="436.80" r="1.35" fill="#000"/>
<circle cx="192.80" cy="436.80" r="1.35" fill="#000"/>
<circle cx="194.05" cy="436.80" r="1.35" fill="#000"/>
<circle cx="195.31" cy="436.80" r="1.35" fill="#000"/>
<circle cx="196.56" cy="436.80" r="1.35" fill="#000"/>
<circle cx="197.82" cy="436.80" r="1.35" fill="#000"/>
<circle cx="199.07" cy="436.80" r="1.35" fill="#000"/>
<circle cx="200.33" cy="436.80" r="1.35" fill="#000"/>
<circle cx="201.58" cy="436.80" r="1.35" fill="#000"/>
<circle cx="202.84" cy="436.80" r="1.35" fill="#000"/>
<circle cx="204.09" cy="436.80" r="1.35" fill="#000"/>
<circle cx="205.35" cy="436.80" r="1.35" fill="#000"/>
<circle cx="206.60" cy="436.80" r="1.35" fill="#000"/>
<rect x="216.10" y="383.20" width="17.00" height="54.70" fill="#d42fd8" stroke="#222" stroke-width="0.8" />
<rect x="241.40" y="426.30" width="17.00" height="11.60" fill="#f59cf9" stroke="#222" stroke-width="0.8" />
<text x="234.20" y="448.73" font-size="7.8" text-anchor="middle" fill="#111" letter-spacing="-0.4" >15-20</text>
<line x1="234.20" y1="437.90" x2="234.20" y2="440.50" stroke="#444" stroke-width="1" />
<circle cx="218.00" cy="436.80" r="1.35" fill="#000"/>
<circle cx="219.89" cy="436.80" r="1.35" fill="#000"/>
<circle cx="221.77" cy="436.80" r="1.35" fill="#000"/>
<circle cx="223.66" cy="436.80" r="1.35" fill="#000"/>
<circle cx="225.54" cy="436.80" r="1.35" fill="#000"/>
<circle cx="227.43" cy="436.80" r="1.35" fill="#000"/>
<circle cx="229.31" cy="436.80" r="1.35" fill="#000"/>
<circle cx="231.20" cy="436.80" r="1.35" fill="#000"/>
<circle cx="243.00" cy="436.80" r="1.35" fill="#000"/>
<circle cx="244.25" cy="436.80" r="1.35" fill="#000"/>
<circle cx="245.51" cy="436.80" r="1.35" fill="#000"/>
<circle cx="246.76" cy="436.80" r="1.35" fill="#000"/>
<circle cx="248.02" cy="436.80" r="1.35" fill="#000"/>
<circle cx="249.27" cy="436.80" r="1.35" fill="#000"/>
<circle cx="250.53" cy="436.80" r="1.35" fill="#000"/>
<circle cx="251.78" cy="436.80" r="1.35" fill="#000"/>
<circle cx="253.04" cy="436.80" r="1.35" fill="#000"/>
<circle cx="254.29" cy="436.80" r="1.35" fill="#000"/>
<circle cx="255.55" cy="436.80" r="1.35" fill="#000"/>
<circle cx="256.80" cy="436.80" r="1.35" fill="#000"/>
<rect x="266.30" y="399.50" width="17.00" height="38.40" fill="#d42fd8" stroke="#222" stroke-width="0.8" />
<rect x="291.90" y="408.80" width="17.00" height="29.10" fill="#f59cf9" stroke="#222" stroke-width="0.8" />
<text x="284.50" y="448.73" font-size="7.8" text-anchor="middle" fill="#111" letter-spacing="-0.4" >20-45</text>
<line x1="284.50" y1="437.90" x2="284.50" y2="440.50" stroke="#444" stroke-width="1" />
<circle cx="268.20" cy="436.80" r="1.35" fill="#000"/>
<circle cx="270.09" cy="436.80" r="1.35" fill="#000"/>
<circle cx="271.97" cy="436.80" r="1.35" fill="#000"/>
<circle cx="273.86" cy="436.80" r="1.35" fill="#000"/>
<circle cx="275.74" cy="436.80" r="1.35" fill="#000"/>
<circle cx="277.63" cy="436.80" r="1.35" fill="#000"/>
<circle cx="279.51" cy="436.80" r="1.35" fill="#000"/>
<circle cx="281.40" cy="436.80" r="1.35" fill="#000"/>
<circle cx="293.50" cy="436.80" r="1.35" fill="#000"/>
<circle cx="294.75" cy="436.80" r="1.35" fill="#000"/>
<circle cx="296.01" cy="436.80" r="1.35" fill="#000"/>
<circle cx="297.26" cy="436.80" r="1.35" fill="#000"/>
<circle cx="298.52" cy="436.80" r="1.35" fill="#000"/>
<circle cx="299.77" cy="436.80" r="1.35" fill="#000"/>
<circle cx="301.03" cy="436.80" r="1.35" fill="#000"/>
<circle cx="302.28" cy="436.80" r="1.35" fill="#000"/>
<circle cx="303.54" cy="436.80" r="1.35" fill="#000"/>
<circle cx="304.79" cy="436.80" r="1.35" fill="#000"/>
<circle cx="306.05" cy="436.80" r="1.35" fill="#000"/>
<circle cx="307.30" cy="436.80" r="1.35" fill="#000"/>
<line x1="73.00" y1="434.20" x2="73.00" y2="437.90" stroke="#333" stroke-width="0.8" />
<line x1="68.50" y1="434.20" x2="77.50" y2="434.20" stroke="#333" stroke-width="0.8" />
<line x1="68.50" y1="437.90" x2="77.50" y2="437.90" stroke="#333" stroke-width="0.8" />
<line x1="123.70" y1="391.40" x2="123.70" y2="420.70" stroke="#333" stroke-width="0.8" />
<line x1="119.20" y1="391.40" x2="128.20" y2="391.40" stroke="#333" stroke-width="0.8" />
<line x1="119.20" y1="420.70" x2="128.20" y2="420.70" stroke="#333" stroke-width="0.8" />
<line x1="149.50" y1="435.40" x2="149.50" y2="437.90" stroke="#333" stroke-width="0.8" />
<line x1="145.00" y1="435.40" x2="154.00" y2="435.40" stroke="#333" stroke-width="0.8" />
<line x1="145.00" y1="437.90" x2="154.00" y2="437.90" stroke="#333" stroke-width="0.8" />
<line x1="174.40" y1="382.00" x2="174.40" y2="410.60" stroke="#333" stroke-width="0.8" />
<line x1="169.90" y1="382.00" x2="178.90" y2="382.00" stroke="#333" stroke-width="0.8" />
<line x1="169.90" y1="410.60" x2="178.90" y2="410.60" stroke="#333" stroke-width="0.8" />
<line x1="199.70" y1="424.80" x2="199.70" y2="434.50" stroke="#333" stroke-width="0.8" />
<line x1="195.20" y1="424.80" x2="204.20" y2="424.80" stroke="#333" stroke-width="0.8" />
<line x1="195.20" y1="434.50" x2="204.20" y2="434.50" stroke="#333" stroke-width="0.8" />
<line x1="224.60" y1="362.40" x2="224.60" y2="404.10" stroke="#333" stroke-width="0.8" />
<line x1="220.10" y1="362.40" x2="229.10" y2="362.40" stroke="#333" stroke-width="0.8" />
<line x1="220.10" y1="404.10" x2="229.10" y2="404.10" stroke="#333" stroke-width="0.8" />
<line x1="249.90" y1="420.10" x2="249.90" y2="432.30" stroke="#333" stroke-width="0.8" />
<line x1="245.40" y1="420.10" x2="254.40" y2="420.10" stroke="#333" stroke-width="0.8" />
<line x1="245.40" y1="432.30" x2="254.40" y2="432.30" stroke="#333" stroke-width="0.8" />
<line x1="274.80" y1="390.10" x2="274.80" y2="408.70" stroke="#333" stroke-width="0.8" />
<line x1="270.30" y1="390.10" x2="279.30" y2="390.10" stroke="#333" stroke-width="0.8" />
<line x1="270.30" y1="408.70" x2="279.30" y2="408.70" stroke="#333" stroke-width="0.8" />
<line x1="300.40" y1="392.60" x2="300.40" y2="425.20" stroke="#333" stroke-width="0.8" />
<line x1="295.90" y1="392.60" x2="304.90" y2="392.60" stroke="#333" stroke-width="0.8" />
<line x1="295.90" y1="425.20" x2="304.90" y2="425.20" stroke="#333" stroke-width="0.8" />
<circle cx="73.00" cy="405.60" r="1.6" fill="#000"/>
<circle cx="123.70" cy="301.30" r="1.6" fill="#000"/>
<circle cx="123.70" cy="321.10" r="1.6" fill="#000"/>
<circle cx="123.70" cy="359.90" r="1.6" fill="#000"/>
<circle cx="123.70" cy="397.80" r="1.6" fill="#000"/>
<circle cx="123.70" cy="405.00" r="1.6" fill="#000"/>
<circle cx="148.90" cy="411.30" r="1.6" fill="#000"/>
<circle cx="174.40" cy="301.30" r="1.6" fill="#000"/>
<circle cx="174.40" cy="321.60" r="1.6" fill="#000"/>
<circle cx="174.40" cy="339.60" r="1.6" fill="#000"/>
<circle cx="174.40" cy="399.30" r="1.6" fill="#000"/>
<circle cx="174.40" cy="421.20" r="1.6" fill="#000"/>
<circle cx="199.20" cy="364.40" r="1.6" fill="#000"/>
<circle cx="199.20" cy="388.00" r="1.6" fill="#000"/>
<circle cx="199.20" cy="411.30" r="1.6" fill="#000"/>
<circle cx="224.60" cy="274.60" r="1.6" fill="#000"/>
<circle cx="224.60" cy="313.30" r="1.6" fill="#000"/>
<circle cx="224.60" cy="318.30" r="1.6" fill="#000"/>
<circle cx="224.60" cy="371.80" r="1.6" fill="#000"/>
<circle cx="224.60" cy="379.40" r="1.6" fill="#000"/>
<circle cx="224.60" cy="387.00" r="1.6" fill="#000"/>
<circle cx="224.60" cy="393.40" r="1.6" fill="#000"/>
<circle cx="224.60" cy="402.30" r="1.6" fill="#000"/>
<circle cx="224.60" cy="408.70" r="1.6" fill="#000"/>
<circle cx="224.60" cy="413.80" r="1.6" fill="#000"/>
<circle cx="224.60" cy="418.90" r="1.6" fill="#000"/>
<circle cx="224.60" cy="425.70" r="1.6" fill="#000"/>
<circle cx="250.00" cy="338.20" r="1.6" fill="#000"/>
<circle cx="250.00" cy="375.60" r="1.6" fill="#000"/>
<circle cx="250.00" cy="410.50" r="1.6" fill="#000"/>
<circle cx="250.00" cy="417.60" r="1.6" fill="#000"/>
<circle cx="275.20" cy="322.20" r="1.6" fill="#000"/>
<circle cx="275.20" cy="341.20" r="1.6" fill="#000"/>
<circle cx="275.20" cy="345.30" r="1.6" fill="#000"/>
<circle cx="275.20" cy="360.30" r="1.6" fill="#000"/>
<circle cx="275.20" cy="387.60" r="1.6" fill="#000"/>
<circle cx="275.20" cy="400.30" r="1.6" fill="#000"/>
<circle cx="275.20" cy="407.40" r="1.6" fill="#000"/>
<circle cx="275.20" cy="413.30" r="1.6" fill="#000"/>
<circle cx="300.40" cy="290.40" r="1.6" fill="#000"/>
<circle cx="300.40" cy="383.20" r="1.6" fill="#000"/>
<circle cx="300.40" cy="389.10" r="1.6" fill="#000"/>
<circle cx="300.40" cy="395.40" r="1.6" fill="#000"/>
<circle cx="300.40" cy="402.30" r="1.6" fill="#000"/>
<circle cx="300.40" cy="408.70" r="1.6" fill="#000"/>
<circle cx="300.40" cy="418.10" r="1.6" fill="#000"/>
<circle cx="121.80" cy="420.70" r="1.6" fill="#000"/>
<circle cx="123.70" cy="421.50" r="1.6" fill="#000"/>
<circle cx="125.60" cy="420.70" r="1.6" fill="#000"/>
<circle cx="127.00" cy="421.80" r="1.6" fill="#000"/>
<circle cx="172.60" cy="370.00" r="1.6" fill="#000"/>
<circle cx="175.60" cy="369.50" r="1.6" fill="#000"/>
<circle cx="172.60" cy="403.80" r="1.6" fill="#000"/>
<circle cx="176.00" cy="403.50" r="1.6" fill="#000"/>
<circle cx="273.40" cy="390.10" r="1.6" fill="#000"/>
<circle cx="277.00" cy="390.10" r="1.6" fill="#000"/>
<circle cx="273.40" cy="402.30" r="1.6" fill="#000"/>
<circle cx="277.00" cy="402.30" r="1.6" fill="#000"/>
<text x="73.50" y="261.85" font-size="11" text-anchor="middle" fill="#111" >T+</text>
<rect x="82.10" y="252.10" width="28.60" height="11.30" fill="#d42fd8" stroke="#555" stroke-width="0.8" />
<text x="96.40" y="261.65" font-size="11" text-anchor="middle" fill="#222" >n=18</text>
<text x="73.50" y="275.45" font-size="11" text-anchor="middle" fill="#111" >T-</text>
<rect x="82.10" y="266.40" width="28.60" height="11.40" fill="#f59cf9" stroke="#555" stroke-width="0.8" />
<text x="96.40" y="275.85" font-size="11" text-anchor="middle" fill="#222" >n=31</text>
<text x="91.00" y="300.82" font-size="11.5" text-anchor="middle" fill="#111" letter-spacing="-0.1" >&gt;0.99</text>
<text x="90.40" y="308.22" font-size="11.5" text-anchor="middle" fill="#111" >ns</text>
<line x1="81.90" y1="311.70" x2="97.00" y2="311.70" stroke="#111" stroke-width="1.5" />
<text x="139.40" y="279.92" font-size="11.5" text-anchor="middle" fill="#111" letter-spacing="-0.1" >0.0038</text>
<text x="137.60" y="292.18" font-size="13" letter-spacing="0.4" text-anchor="middle" fill="#111">**</text>
<line x1="130.20" y1="292.00" x2="145.90" y2="292.00" stroke="#111" stroke-width="1.5" />
<text x="190.45" y="279.50" font-size="12" text-anchor="middle" fill="#111" letter-spacing="-0.1" >0.017</text>
<text x="189.00" y="291.88" font-size="13" letter-spacing="0.4" text-anchor="middle" fill="#111">*</text>
<line x1="180.30" y1="292.10" x2="195.80" y2="292.10" stroke="#111" stroke-width="1.5" />
<text x="237.40" y="256.12" font-size="11.5" text-anchor="middle" fill="#111" letter-spacing="-0.1" >0.0056</text>
<text x="238.00" y="268.03" font-size="13" letter-spacing="0.4" text-anchor="middle" fill="#111">**</text>
<line x1="230.00" y1="268.20" x2="245.10" y2="268.20" stroke="#111" stroke-width="1.5" />
<text x="288.70" y="273.72" font-size="11.5" text-anchor="middle" fill="#111" letter-spacing="-0.1" >0.0914</text>
<text x="289.50" y="281.62" font-size="11.5" text-anchor="middle" fill="#111" >ns</text>
<line x1="282.30" y1="285.70" x2="297.60" y2="285.70" stroke="#111" stroke-width="1.5" />
<line x1="372.50" y1="274.40" x2="372.50" y2="409.30" stroke="#444" stroke-width="1" />
<line x1="367.50" y1="409.30" x2="372.50" y2="409.30" stroke="#444" stroke-width="1" />
<line x1="369.50" y1="395.81" x2="372.50" y2="395.81" stroke="#444" stroke-width="1" />
<line x1="369.50" y1="382.32" x2="372.50" y2="382.32" stroke="#444" stroke-width="1" />
<line x1="369.50" y1="368.83" x2="372.50" y2="368.83" stroke="#444" stroke-width="1" />
<line x1="369.50" y1="355.34" x2="372.50" y2="355.34" stroke="#444" stroke-width="1" />
<line x1="367.50" y1="341.85" x2="372.50" y2="341.85" stroke="#444" stroke-width="1" />
<line x1="369.50" y1="328.36" x2="372.50" y2="328.36" stroke="#444" stroke-width="1" />
<line x1="369.50" y1="314.87" x2="372.50" y2="314.87" stroke="#444" stroke-width="1" />
<line x1="369.50" y1="301.38" x2="372.50" y2="301.38" stroke="#444" stroke-width="1" />
<line x1="369.50" y1="287.89" x2="372.50" y2="287.89" stroke="#444" stroke-width="1" />
<line x1="367.50" y1="274.40" x2="372.50" y2="274.40" stroke="#444" stroke-width="1" />
<text x="366.00" y="413.08" font-size="10.8" text-anchor="end" fill="#111" letter-spacing="-0.1" >0</text>
<text x="366.00" y="345.63" font-size="10.8" text-anchor="end" fill="#111" letter-spacing="-0.1" >50</text>
<text x="366.00" y="278.18" font-size="10.8" text-anchor="end" fill="#111" letter-spacing="-0.1" >100</text>
<line x1="372.50" y1="409.30" x2="502.70" y2="409.30" stroke="#444" stroke-width="1" />
<line x1="372.50" y1="409.30" x2="372.50" y2="414.30" stroke="#444" stroke-width="1" />
<line x1="383.35" y1="409.30" x2="383.35" y2="412.30" stroke="#444" stroke-width="1" />
<line x1="394.20" y1="409.30" x2="394.20" y2="412.30" stroke="#444" stroke-width="1" />
<line x1="405.05" y1="409.30" x2="405.05" y2="412.30" stroke="#444" stroke-width="1" />
<line x1="415.90" y1="409.30" x2="415.90" y2="414.30" stroke="#444" stroke-width="1" />
<line x1="426.75" y1="409.30" x2="426.75" y2="412.30" stroke="#444" stroke-width="1" />
<line x1="437.60" y1="409.30" x2="437.60" y2="412.30" stroke="#444" stroke-width="1" />
<line x1="448.45" y1="409.30" x2="448.45" y2="412.30" stroke="#444" stroke-width="1" />
<line x1="459.30" y1="409.30" x2="459.30" y2="414.30" stroke="#444" stroke-width="1" />
<line x1="470.15" y1="409.30" x2="470.15" y2="412.30" stroke="#444" stroke-width="1" />
<line x1="481.00" y1="409.30" x2="481.00" y2="412.30" stroke="#444" stroke-width="1" />
<line x1="491.85" y1="409.30" x2="491.85" y2="412.30" stroke="#444" stroke-width="1" />
<line x1="502.70" y1="409.30" x2="502.70" y2="414.30" stroke="#444" stroke-width="1" />
<text x="372.50" y="423.48" font-size="10.5" text-anchor="middle" fill="#111" letter-spacing="-0.3" >20</text>
<text x="415.90" y="423.48" font-size="10.5" text-anchor="middle" fill="#111" letter-spacing="-0.3" >40</text>
<text x="459.30" y="423.48" font-size="10.5" text-anchor="middle" fill="#111" letter-spacing="-0.3" >60</text>
<text x="502.70" y="423.48" font-size="10.5" text-anchor="middle" fill="#111" letter-spacing="-0.3" >80</text>
<text x="440.80" y="437.42" font-size="11.2" text-anchor="middle" fill="#111" >Vesicle diameter (nm)</text>
<text transform="translate(336.12,345.20) rotate(-90)" font-size="11.2" text-anchor="middle" fill="#111">Cumulative Frequency</text>
<text transform="translate(347.25,344.70) rotate(-90)" font-size="11.3" text-anchor="middle" fill="#111">Distribution (%)</text>
<polyline fill="none" stroke="#f13ff1" stroke-width="1.4" points="372.50,409.30 383.35,407.55 394.20,400.13 405.05,376.52 415.90,351.43 426.75,322.29 437.60,301.25 448.45,289.24 459.30,281.68 470.15,277.64 481.00,275.61 491.85,274.94 502.70,274.40"/>
<polyline fill="none" stroke="#8a1d8d" stroke-width="1.4" points="372.50,405.93 383.35,405.93 394.20,403.63 405.05,399.32 415.90,387.04 426.75,346.30 437.60,314.60 448.45,306.10 459.30,290.59 470.15,283.71 481.00,283.71 491.85,280.61 502.70,274.40"/>
<text x="409.30" y="309.90" font-size="10" text-anchor="middle" fill="#111" letter-spacing="-0.15" >0.0016</text>
<polygon points="406.80,311.68 407.30,312.89 408.61,312.99 407.61,313.85 407.92,315.12 406.80,314.44 405.68,315.12 405.99,313.85 404.99,312.99 406.30,312.89" fill="#222"/>
<polygon points="411.20,311.68 411.70,312.89 413.01,312.99 412.01,313.85 412.32,315.12 411.20,314.44 410.08,315.12 410.39,313.85 409.39,312.99 410.70,312.89" fill="#222"/>
<text x="447.80" y="336.98" font-size="10.5" text-anchor="middle" fill="#111" letter-spacing="-0.2" >all</text>
<line x1="455.30" y1="333.50" x2="469.80" y2="333.50" stroke="#f13ff1" stroke-width="1.4" />
<text x="471.90" y="336.98" font-size="10.5" text-anchor="start" fill="#111" letter-spacing="-0.2" >n = 3004</text>
<text x="447.30" y="350.07" font-size="10.5" text-anchor="middle" fill="#111" >T+</text>
<line x1="455.30" y1="346.60" x2="469.80" y2="346.60" stroke="#8a1d8d" stroke-width="1.4" />
<text x="471.90" y="350.07" font-size="10.5" text-anchor="start" fill="#111" letter-spacing="-0.2" >n = 43</text>
<line x1="564.80" y1="270.10" x2="564.80" y2="409.70" stroke="#444" stroke-width="1" />
<line x1="559.80" y1="409.70" x2="564.80" y2="409.70" stroke="#444" stroke-width="1" />
<line x1="561.80" y1="395.74" x2="564.80" y2="395.74" stroke="#444" stroke-width="1" />
<line x1="561.80" y1="381.78" x2="564.80" y2="381.78" stroke="#444" stroke-width="1" />
<line x1="561.80" y1="367.82" x2="564.80" y2="367.82" stroke="#444" stroke-width="1" />
<line x1="561.80" y1="353.86" x2="564.80" y2="353.86" stroke="#444" stroke-width="1" />
<line x1="559.80" y1="339.90" x2="564.80" y2="339.90" stroke="#444" stroke-width="1" />
<line x1="561.80" y1="325.94" x2="564.80" y2="325.94" stroke="#444" stroke-width="1" />
<line x1="561.80" y1="311.98" x2="564.80" y2="311.98" stroke="#444" stroke-width="1" />
<line x1="561.80" y1="298.02" x2="564.80" y2="298.02" stroke="#444" stroke-width="1" />
<line x1="561.80" y1="284.06" x2="564.80" y2="284.06" stroke="#444" stroke-width="1" />
<line x1="559.80" y1="270.10" x2="564.80" y2="270.10" stroke="#444" stroke-width="1" />
<text x="558.50" y="413.48" font-size="10.8" text-anchor="end" fill="#111" letter-spacing="-0.1" >0</text>
<text x="558.50" y="343.68" font-size="10.8" text-anchor="end" fill="#111" letter-spacing="-0.1" >50</text>
<text x="558.50" y="273.88" font-size="10.8" text-anchor="end" fill="#111" letter-spacing="-0.1" >100</text>
<line x1="564.80" y1="409.70" x2="682.30" y2="409.70" stroke="#444" stroke-width="1" />
<line x1="565.40" y1="409.70" x2="565.40" y2="414.70" stroke="#444" stroke-width="1" />
<line x1="594.62" y1="409.70" x2="594.62" y2="412.70" stroke="#444" stroke-width="1" />
<line x1="623.85" y1="409.70" x2="623.85" y2="414.70" stroke="#444" stroke-width="1" />
<line x1="653.07" y1="409.70" x2="653.07" y2="412.70" stroke="#444" stroke-width="1" />
<line x1="682.30" y1="409.70" x2="682.30" y2="414.70" stroke="#444" stroke-width="1" />
<text x="565.40" y="426.28" font-size="10.5" text-anchor="middle" fill="#111" letter-spacing="-0.3" >0.80</text>
<text x="623.85" y="426.28" font-size="10.5" text-anchor="middle" fill="#111" letter-spacing="-0.3" >0.90</text>
<text x="681.30" y="426.28" font-size="10.5" text-anchor="middle" fill="#111" >1</text>
<text x="625.30" y="439.95" font-size="11" text-anchor="middle" fill="#111" >Wadell's index</text>
<text transform="translate(529.82,343.00) rotate(-90)" font-size="10.9" text-anchor="middle" fill="#111">Cumulative Frequency</text>
<text transform="translate(540.82,342.30) rotate(-90)" font-size="10.9" text-anchor="middle" fill="#111">Distribution (%)</text>
<polyline fill="none" stroke="#f13ff1" stroke-width="1.4" points="565.40,409.70 594.50,407.80 624.20,399.70 645.80,394.30 656.60,390.20 664.70,384.80 670.70,375.40 676.00,285.80 682.30,270.90"/>
<polyline fill="none" stroke="#8a1d8d" stroke-width="1.4" points="565.40,409.70 594.50,409.70 600.00,406.40 606.70,406.40 612.00,403.20 629.60,403.20 641.80,397.00 658.00,397.00 664.20,392.90 670.10,387.50 682.30,270.90"/>
<text x="645.00" y="371.90" font-size="10" text-anchor="middle" fill="#111" letter-spacing="-0.15" >&lt;0.0001</text>
<polygon points="638.40,374.68 638.90,375.89 640.21,375.99 639.21,376.85 639.52,378.12 638.40,377.44 637.28,378.12 637.59,376.85 636.59,375.99 637.90,375.89" fill="#222"/>
<polygon points="642.80,374.68 643.30,375.89 644.61,375.99 643.61,376.85 643.92,378.12 642.80,377.44 641.68,378.12 641.99,376.85 640.99,375.99 642.30,375.89" fill="#222"/>
<polygon points="647.20,374.68 647.70,375.89 649.01,375.99 648.01,376.85 648.32,378.12 647.20,377.44 646.08,378.12 646.39,376.85 645.39,375.99 646.70,375.89" fill="#222"/>
<polygon points="651.60,374.68 652.10,375.89 653.41,375.99 652.41,376.85 652.72,378.12 651.60,377.44 650.48,378.12 650.79,376.85 649.79,375.99 651.10,375.89" fill="#222"/>
<text x="583.00" y="323.18" font-size="10.5" text-anchor="middle" fill="#111" letter-spacing="-0.2" >all</text>
<line x1="591.00" y1="319.70" x2="605.30" y2="319.70" stroke="#f13ff1" stroke-width="1.4" />
<text x="608.60" y="323.18" font-size="10.5" text-anchor="start" fill="#111" letter-spacing="-0.2" >n = 3004</text>
<text x="583.00" y="337.48" font-size="10.5" text-anchor="middle" fill="#111" >T+</text>
<line x1="591.00" y1="334.00" x2="605.30" y2="334.00" stroke="#8a1d8d" stroke-width="1.4" />
<text x="608.60" y="337.48" font-size="10.5" text-anchor="start" fill="#111" letter-spacing="-0.2" >n = 43</text>
<ellipse cx="583.4" cy="277.2" rx="12.5" ry="5.9" transform="rotate(37 583.4 277.2)" fill="#3c8fd8"/>
<ellipse cx="582.6" cy="276.2" rx="11.6" ry="4.9" transform="rotate(37 582.6 276.2)" fill="url(#gSh)"/>
<ellipse cx="608.4" cy="275.5" rx="11.8" ry="8.4" transform="rotate(65 608.4 275.5)" fill="#4a9ee6"/>
<ellipse cx="608" cy="274.8" rx="10.8" ry="7.6" transform="rotate(65 608 274.8)" fill="url(#gSh)"/>
<ellipse cx="633.7" cy="275.8" rx="10" ry="8.6" transform="rotate(40 633.7 275.8)" fill="#3c8fd8"/>
<ellipse cx="633.2" cy="275" rx="9.2" ry="7.6" transform="rotate(40 633.2 275)" fill="url(#gSh)"/>
<circle cx="662.5" cy="275.2" r="9.6" fill="url(#gSh)"/>
<line x1="54.60" y1="531.30" x2="54.60" y2="664.30" stroke="#555" stroke-width="1" />
<line x1="50.30" y1="664.30" x2="54.60" y2="664.30" stroke="#555" stroke-width="1" />
<text x="48.60" y="667.62" font-size="9.5" text-anchor="end" fill="#222" letter-spacing="-0.15" >0</text>
<line x1="50.30" y1="631.05" x2="54.60" y2="631.05" stroke="#555" stroke-width="1" />
<text x="48.60" y="634.38" font-size="9.5" text-anchor="end" fill="#222" letter-spacing="-0.15" >250</text>
<line x1="50.30" y1="597.80" x2="54.60" y2="597.80" stroke="#555" stroke-width="1" />
<text x="48.60" y="601.12" font-size="9.5" text-anchor="end" fill="#222" letter-spacing="-0.15" >500</text>
<line x1="50.30" y1="564.55" x2="54.60" y2="564.55" stroke="#555" stroke-width="1" />
<text x="48.60" y="567.88" font-size="9.5" text-anchor="end" fill="#222" letter-spacing="-0.15" >750</text>
<line x1="50.30" y1="531.30" x2="54.60" y2="531.30" stroke="#555" stroke-width="1" />
<text x="48.60" y="534.62" font-size="9.5" text-anchor="end" fill="#222" letter-spacing="-0.15" >1000</text>
<line x1="50.30" y1="664.30" x2="123.40" y2="664.30" stroke="#555" stroke-width="1" />
<rect x="71.60" y="601.10" width="32.80" height="63.20" fill="#ce3ed4" stroke="#444" stroke-width="0.8" />
<line x1="87.90" y1="561.40" x2="87.90" y2="639.20" stroke="#666" stroke-width="1" />
<line x1="78.60" y1="561.40" x2="97.20" y2="561.40" stroke="#666" stroke-width="1" />
<line x1="78.60" y1="639.20" x2="97.20" y2="639.20" stroke="#666" stroke-width="1" />
<circle cx="84.80" cy="563.30" r="1.5" fill="#000"/>
<circle cx="91.30" cy="565.60" r="1.5" fill="#000"/>
<circle cx="84.80" cy="572.60" r="1.5" fill="#000"/>
<circle cx="91.30" cy="572.60" r="1.5" fill="#000"/>
<circle cx="84.80" cy="580.80" r="1.5" fill="#000"/>
<circle cx="91.30" cy="579.80" r="1.5" fill="#000"/>
<circle cx="88.00" cy="590.60" r="1.5" fill="#000"/>
<circle cx="88.00" cy="603.50" r="1.5" fill="#000"/>
<circle cx="88.00" cy="623.50" r="1.5" fill="#000"/>
<circle cx="84.80" cy="628.60" r="1.5" fill="#000"/>
<circle cx="91.30" cy="631.10" r="1.5" fill="#000"/>
<circle cx="84.80" cy="636.20" r="1.5" fill="#000"/>
<circle cx="91.30" cy="639.20" r="1.5" fill="#000"/>
<circle cx="84.80" cy="643.80" r="1.5" fill="#000"/>
<circle cx="91.30" cy="644.40" r="1.5" fill="#000"/>
<circle cx="88.00" cy="662.00" r="1.5" fill="#000"/>
<circle cx="84.80" cy="537.80" r="1.5" fill="#000"/>
<circle cx="91.10" cy="536.00" r="1.5" fill="#000"/>
<text x="86.70" y="524.12" font-size="9.2" text-anchor="middle" fill="#222" letter-spacing="-0.15" >n = 18</text>
<text transform="translate(16.55,596.70) rotate(-90)" font-size="9.3" text-anchor="middle" fill="#222">Minimal distance of tethered SV</text>
<text transform="translate(26.72,597.00) rotate(-90)" font-size="9.5" text-anchor="middle" fill="#222">to contact site (nm)</text>
<rect x="123.70" y="550.70" width="98.50" height="114.00" fill="#fbfbfb" stroke="none" stroke-width="1" />
<rect x="222.00" y="528.00" width="150.00" height="150.00" fill="#fafafa" stroke="none" stroke-width="1" />
<path d="M148.81,577.62 C152.62,575.20 157.40,571.09 163.30,569.26 C169.21,567.44 178.30,566.33 184.23,566.65 C190.17,566.96 194.39,567.59 198.93,571.15 C203.46,574.70 208.22,581.69 211.43,587.97 C214.65,594.26 217.48,601.52 218.20,608.85 C218.92,616.18 217.93,625.83 215.77,631.96 C213.61,638.08 209.81,642.66 205.25,645.61 C200.70,648.57 195.44,649.20 188.44,649.68 C181.44,650.17 170.25,650.12 163.28,648.53 C156.30,646.95 151.10,644.01 146.60,640.17 C142.10,636.34 138.86,630.73 136.26,625.51 C133.66,620.29 131.36,614.40 131.00,608.85 C130.64,603.29 132.54,596.35 134.11,592.17 C135.69,587.99 138.00,586.19 140.45,583.77 C142.90,581.34 145.00,580.03 148.81,577.62 Z" fill="#fff"/>
<circle cx="186.06" cy="628.79" r="3.20" fill="url(#gCyan)" stroke="#0b2b48" stroke-width="0.8"/>
<circle cx="172.22" cy="586.21" r="3.20" fill="url(#gCyan)" stroke="#0b2b48" stroke-width="0.8"/>
<circle cx="195.81" cy="600.10" r="2.30" fill="url(#gCyan)" stroke="#0b2b48" stroke-width="0.8"/>
<circle cx="142.49" cy="618.10" r="2.30" fill="url(#gCyan)" stroke="#0b2b48" stroke-width="0.8"/>
<circle cx="144.98" cy="591.97" r="2.30" fill="url(#gCyan)" stroke="#0b2b48" stroke-width="0.8"/>
<circle cx="178.53" cy="623.29" r="2.30" fill="url(#gCyan)" stroke="#0b2b48" stroke-width="0.8"/>
<circle cx="153.74" cy="593.54" r="3.20" fill="url(#gCyan)" stroke="#0b2b48" stroke-width="0.8"/>
<circle cx="182.75" cy="616.25" r="2.60" fill="url(#gCyan)" stroke="#0b2b48" stroke-width="0.8"/>
<circle cx="157.55" cy="624.89" r="2.30" fill="url(#gCyan)" stroke="#0b2b48" stroke-width="0.8"/>
<circle cx="173.31" cy="625.60" r="2.00" fill="url(#gCyan)" stroke="#0b2b48" stroke-width="0.8"/>
<circle cx="166.39" cy="612.22" r="2.90" fill="url(#gCyan)" stroke="#0b2b48" stroke-width="0.8"/>
<circle cx="201.75" cy="638.93" r="2.00" fill="url(#gCyan)" stroke="#0b2b48" stroke-width="0.8"/>
<circle cx="148.76" cy="609.11" r="2.60" fill="url(#gCyan)" stroke="#0b2b48" stroke-width="0.8"/>
<circle cx="213.18" cy="611.88" r="2.60" fill="url(#gCyan)" stroke="#0b2b48" stroke-width="0.8"/>
<circle cx="191.74" cy="591.33" r="2.00" fill="url(#gCyan)" stroke="#0b2b48" stroke-width="0.8"/>
<circle cx="178.02" cy="599.91" r="2.30" fill="url(#gCyan)" stroke="#0b2b48" stroke-width="0.8"/>
<circle cx="196.65" cy="594.57" r="2.60" fill="url(#gCyan)" stroke="#0b2b48" stroke-width="0.8"/>
<circle cx="171.01" cy="601.27" r="2.00" fill="url(#gCyan)" stroke="#0b2b48" stroke-width="0.8"/>
<circle cx="202.15" cy="593.74" r="2.30" fill="url(#gCyan)" stroke="#0b2b48" stroke-width="0.8"/>
<circle cx="169.11" cy="577.84" r="2.90" fill="url(#gCyan)" stroke="#0b2b48" stroke-width="0.8"/>
<circle cx="156.53" cy="603.97" r="3.20" fill="url(#gCyan)" stroke="#0b2b48" stroke-width="0.8"/>
<circle cx="170.82" cy="606.98" r="2.60" fill="url(#gCyan)" stroke="#0b2b48" stroke-width="0.8"/>
<circle cx="203.98" cy="610.73" r="2.30" fill="url(#gCyan)" stroke="#0b2b48" stroke-width="0.8"/>
<circle cx="186.43" cy="607.94" r="2.60" fill="url(#gCyan)" stroke="#0b2b48" stroke-width="0.8"/>
<circle cx="205.17" cy="587.78" r="2.60" fill="url(#gCyan)" stroke="#0b2b48" stroke-width="0.8"/>
<circle cx="172.69" cy="631.54" r="2.60" fill="url(#gCyan)" stroke="#0b2b48" stroke-width="0.8"/>
<circle cx="161.50" cy="637.49" r="2.90" fill="url(#gCyan)" stroke="#0b2b48" stroke-width="0.8"/>
<circle cx="176.63" cy="610.52" r="2.30" fill="url(#gCyan)" stroke="#0b2b48" stroke-width="0.8"/>
<circle cx="157.24" cy="612.58" r="2.60" fill="url(#gCyan)" stroke="#0b2b48" stroke-width="0.8"/>
<circle cx="144.40" cy="602.93" r="2.30" fill="url(#gCyan)" stroke="#0b2b48" stroke-width="0.8"/>
<circle cx="149.71" cy="623.99" r="2.00" fill="url(#gCyan)" stroke="#0b2b48" stroke-width="0.8"/>
<circle cx="207.98" cy="624.24" r="3.20" fill="url(#gCyan)" stroke="#0b2b48" stroke-width="0.8"/>
<circle cx="185.22" cy="573.15" r="3.20" fill="url(#gCyan)" stroke="#0b2b48" stroke-width="0.8"/>
<circle cx="164.45" cy="606.02" r="2.30" fill="url(#gCyan)" stroke="#0b2b48" stroke-width="0.8"/>
<circle cx="164.37" cy="593.04" r="3.20" fill="url(#gCyan)" stroke="#0b2b48" stroke-width="0.8"/>
<circle cx="178.55" cy="592.99" r="3.20" fill="url(#gCyan)" stroke="#0b2b48" stroke-width="0.8"/>
<circle cx="183.62" cy="587.34" r="2.60" fill="url(#gCyan)" stroke="#0b2b48" stroke-width="0.8"/>
<circle cx="176.64" cy="639.26" r="2.00" fill="url(#gCyan)" stroke="#0b2b48" stroke-width="0.8"/>
<circle cx="210.90" cy="605.00" r="2.00" fill="url(#gCyan)" stroke="#0b2b48" stroke-width="0.8"/>
<circle cx="200.11" cy="615.06" r="2.90" fill="url(#gCyan)" stroke="#0b2b48" stroke-width="0.8"/>
<circle cx="203.76" cy="633.09" r="2.00" fill="url(#gCyan)" stroke="#0b2b48" stroke-width="0.8"/>
<circle cx="194.12" cy="576.58" r="2.60" fill="url(#gCyan)" stroke="#0b2b48" stroke-width="0.8"/>
<circle cx="184.96" cy="600.60" r="2.30" fill="url(#gCyan)" stroke="#0b2b48" stroke-width="0.8"/>
<circle cx="196.81" cy="640.55" r="2.30" fill="url(#gCyan)" stroke="#0b2b48" stroke-width="0.8"/>
<circle cx="179.49" cy="583.97" r="2.00" fill="url(#gCyan)" stroke="#0b2b48" stroke-width="0.8"/>
<circle cx="176.53" cy="576.51" r="2.30" fill="url(#gCyan)" stroke="#0b2b48" stroke-width="0.8"/>
<circle cx="186.23" cy="595.47" r="2.30" fill="url(#gCyan)" stroke="#0b2b48" stroke-width="0.8"/>
<circle cx="193.48" cy="633.46" r="2.90" fill="url(#gCyan)" stroke="#0b2b48" stroke-width="0.8"/>
<circle cx="197.53" cy="622.79" r="2.00" fill="url(#gCyan)" stroke="#0b2b48" stroke-width="0.8"/>
<circle cx="199.83" cy="580.11" r="2.30" fill="url(#gCyan)" stroke="#0b2b48" stroke-width="0.8"/>
<circle cx="194.49" cy="585.38" r="2.90" fill="url(#gCyan)" stroke="#0b2b48" stroke-width="0.8"/>
<circle cx="138.28" cy="605.53" r="2.30" fill="url(#gCyan)" stroke="#0b2b48" stroke-width="0.8"/>
<circle cx="170.13" cy="620.08" r="2.00" fill="url(#gCyan)" stroke="#0b2b48" stroke-width="0.8"/>
<circle cx="192.62" cy="620.09" r="2.30" fill="url(#gCyan)" stroke="#0b2b48" stroke-width="0.8"/>
<circle cx="178.31" cy="605.56" r="2.00" fill="url(#gCyan)" stroke="#0b2b48" stroke-width="0.8"/>
<circle cx="204.38" cy="602.49" r="2.60" fill="url(#gCyan)" stroke="#0b2b48" stroke-width="0.8"/>
<circle cx="182.60" cy="636.12" r="2.00" fill="url(#gCyan)" stroke="#0b2b48" stroke-width="0.8"/>
<circle cx="164.34" cy="573.06" r="2.90" fill="url(#gCyan)" stroke="#0b2b48" stroke-width="0.8"/>
<circle cx="137.85" cy="595.60" r="3.20" fill="url(#gCyan)" stroke="#0b2b48" stroke-width="0.8"/>
<circle cx="173.49" cy="616.28" r="2.30" fill="url(#gCyan)" stroke="#0b2b48" stroke-width="0.8"/>
<circle cx="210.41" cy="617.91" r="2.90" fill="url(#gCyan)" stroke="#0b2b48" stroke-width="0.8"/>
<circle cx="165.34" cy="631.95" r="2.90" fill="url(#gCyan)" stroke="#0b2b48" stroke-width="0.8"/>
<circle cx="160.07" cy="583.46" r="2.60" fill="url(#gCyan)" stroke="#0b2b48" stroke-width="0.8"/>
<circle cx="153.59" cy="636.31" r="2.60" fill="url(#gCyan)" stroke="#0b2b48" stroke-width="0.8"/>
<circle cx="164.98" cy="619.08" r="2.30" fill="url(#gCyan)" stroke="#0b2b48" stroke-width="0.8"/>
<circle cx="187.88" cy="637.55" r="2.00" fill="url(#gCyan)" stroke="#0b2b48" stroke-width="0.8"/>
<circle cx="153.81" cy="619.13" r="2.00" fill="url(#gCyan)" stroke="#0b2b48" stroke-width="0.8"/>
<circle cx="140.33" cy="611.22" r="2.00" fill="url(#gCyan)" stroke="#0b2b48" stroke-width="0.8"/>
<circle cx="169.89" cy="643.91" r="3.20" fill="url(#gCyan)" stroke="#0b2b48" stroke-width="0.8"/>
<circle cx="166.36" cy="626.06" r="2.00" fill="url(#gCyan)" stroke="#0b2b48" stroke-width="0.8"/>
<circle cx="192.55" cy="627.70" r="2.00" fill="url(#gCyan)" stroke="#0b2b48" stroke-width="0.8"/>
<circle cx="192.80" cy="611.66" r="3.20" fill="url(#gCyan)" stroke="#0b2b48" stroke-width="0.8"/>
<circle cx="195.00" cy="594.00" r="4.20" fill="url(#gBlue)" stroke="#0b2b48" stroke-width="0.8"/>
<circle cx="206.00" cy="628.00" r="4.20" fill="url(#gBlue)" stroke="#0b2b48" stroke-width="0.8"/>
<ellipse cx="136.5" cy="609" rx="2.8" ry="6.5" transform="rotate(10 136.5 609)" fill="#c8c020" stroke="#6a6410" stroke-width="0.6"/>
<path d="M171,570 L180,569 L177,578 Z" fill="#c8c020" stroke="#6a6410" stroke-width="0.6"/>
<circle cx="141.2" cy="593.3" r="2.5" fill="url(#gBeige)" stroke="#666650" stroke-width="0.5"/>
<circle cx="144.5" cy="588.5" r="2.5" fill="url(#gBeige)" stroke="#666650" stroke-width="0.5"/>
<circle cx="163.4" cy="645.2" r="2.5" fill="url(#gBeige)" stroke="#666650" stroke-width="0.5"/>
<circle cx="172.2" cy="645.2" r="2.5" fill="url(#gBeige)" stroke="#666650" stroke-width="0.5"/>
<circle cx="159.7" cy="576.3" r="2.5" fill="url(#gBeige)" stroke="#666650" stroke-width="0.5"/>
<path d="M148.81,577.62 C152.62,575.20 157.40,571.09 163.30,569.26 C169.21,567.44 178.30,566.33 184.23,566.65 C190.17,566.96 194.39,567.59 198.93,571.15 C203.46,574.70 208.22,581.69 211.43,587.97 C214.65,594.26 217.48,601.52 218.20,608.85 C218.92,616.18 217.93,625.83 215.77,631.96 C213.61,638.08 209.81,642.66 205.25,645.61 C200.70,648.57 195.44,649.20 188.44,649.68 C181.44,650.17 170.25,650.12 163.28,648.53 C156.30,646.95 151.10,644.01 146.60,640.17 C142.10,636.34 138.86,630.73 136.26,625.51 C133.66,620.29 131.36,614.40 131.00,608.85 C130.64,603.29 132.54,596.35 134.11,592.17 C135.69,587.99 138.00,586.19 140.45,583.77 C142.90,581.34 145.00,580.03 148.81,577.62 Z" fill="none" stroke="#a326ad" stroke-width="2.6"/>
<path d="M148.81,577.62 C152.62,575.20 157.40,571.09 163.30,569.26 C169.21,567.44 178.30,566.33 184.23,566.65 C190.17,566.96 194.39,567.59 198.93,571.15 C203.46,574.70 208.22,581.69 211.43,587.97 C214.65,594.26 217.48,601.52 218.20,608.85 C218.92,616.18 217.93,625.83 215.77,631.96 C213.61,638.08 209.81,642.66 205.25,645.61 C200.70,648.57 195.44,649.20 188.44,649.68 C181.44,650.17 170.25,650.12 163.28,648.53 C156.30,646.95 151.10,644.01 146.60,640.17 C142.10,636.34 138.86,630.73 136.26,625.51 C133.66,620.29 131.36,614.40 131.00,608.85 C130.64,603.29 132.54,596.35 134.11,592.17 C135.69,587.99 138.00,586.19 140.45,583.77 C142.90,581.34 145.00,580.03 148.81,577.62 Z" fill="none" stroke="#d446db" stroke-width="1.4"/>
<path d="M190,651 Q200,645 208,644 L206,648 Q198,652 190,652 Z" fill="#e050e6"/>
<rect x="143.70" y="667.30" width="77.50" height="2.90" fill="#000" stroke="none" stroke-width="1" />
<path d="M243.00,550.70 C249.13,545.90 258.35,542.68 266.00,540.30 C273.65,537.92 280.48,537.17 288.90,536.40 C297.32,535.63 308.07,534.67 316.50,535.70 C324.93,536.73 332.62,538.57 339.50,542.60 C346.38,546.63 353.22,553.20 357.80,559.90 C362.38,566.60 365.27,575.15 367.00,582.80 C368.73,590.45 368.97,597.75 368.20,605.80 C367.43,613.85 366.03,623.05 362.40,631.10 C358.77,639.15 352.90,647.98 346.40,654.10 C339.90,660.22 331.83,664.28 323.40,667.80 C314.97,671.32 304.62,674.82 295.80,675.20 C286.98,675.58 278.15,673.62 270.50,670.10 C262.85,666.58 256.40,661.37 249.90,654.10 C243.40,646.83 235.92,636.08 231.50,626.50 C227.08,616.92 223.78,606.17 223.40,596.60 C223.02,587.03 225.93,576.75 229.20,569.10 C232.47,561.45 236.87,555.50 243.00,550.70 Z" fill="#c32ccc" stroke="#8e1a98" stroke-width="0.9"/>
<path d="M244.05,551.77 C250.07,547.08 259.12,543.91 266.63,541.66 C274.14,539.41 280.94,538.74 289.09,538.28 C297.25,537.81 307.61,537.51 315.56,538.88 C323.50,540.26 330.51,542.44 336.77,546.51 C343.03,550.59 349.00,556.99 353.10,563.33 C357.20,569.67 359.69,577.49 361.36,584.56 C363.03,591.63 363.49,598.20 363.12,605.74 C362.75,613.29 362.18,622.00 359.16,629.83 C356.14,637.66 351.06,646.63 345.00,652.73 C338.94,658.83 331.00,662.93 322.80,666.43 C314.60,669.92 304.43,673.32 295.80,673.70 C287.18,674.08 278.53,672.15 271.05,668.70 C263.57,665.25 257.28,660.12 250.93,653.01 C244.57,645.89 237.26,635.40 232.92,626.03 C228.58,616.65 225.29,606.14 224.89,596.77 C224.49,587.40 227.33,577.31 230.52,569.81 C233.71,562.31 238.03,556.46 244.05,551.77 Z" fill="none" stroke="#e657ee" stroke-width="2.2"/>
<path d="M244.96,552.70 C250.87,548.11 259.79,544.94 267.18,542.84 C274.57,540.74 281.39,540.15 289.28,540.08 C297.17,540.02 307.13,540.61 314.50,542.46 C321.88,544.30 328.05,546.99 333.53,551.16 C339.02,555.33 343.91,561.56 347.40,567.49 C350.90,573.41 352.90,580.34 354.50,586.71 C356.11,593.07 356.97,598.77 357.03,605.68 C357.08,612.58 357.21,620.66 354.81,628.12 C352.42,635.58 348.17,644.52 342.63,650.43 C337.09,656.33 329.35,660.22 321.55,663.55 C313.74,666.88 304.04,670.03 295.81,670.40 C287.59,670.77 279.37,668.99 272.20,665.76 C265.03,662.52 259.06,657.72 252.81,651.00 C246.57,644.27 239.20,634.43 234.76,625.41 C230.32,616.40 226.70,606.09 226.18,596.92 C225.67,587.76 228.54,577.80 231.67,570.43 C234.80,563.06 239.04,557.30 244.96,552.70 Z" fill="#fff" stroke="#9c22a6" stroke-width="0.9"/>
<circle cx="278.5" cy="600.5" r="35.5" fill="url(#gNuc)" stroke="#8a6aa8" stroke-width="0.6"/>
<path d="M252.2,578 Q249,598 251,618.4 L254.5,617 Q253,598 255.5,578.5 Z" fill="#8a2a4a" stroke="#5a1a2a" stroke-width="0.6"/>
<ellipse cx="344.61" cy="602.69" rx="2.97" ry="1.62" transform="rotate(140.9 344.61 602.69)" fill="url(#gBlue)" stroke="#0b2b48" stroke-width="0.9"/>
<circle cx="258.16" cy="557.23" r="3.80" fill="url(#gBlue)" stroke="#0b2b48" stroke-width="0.9"/>
<circle cx="337.70" cy="595.77" r="3.80" fill="url(#gBlue)" stroke="#0b2b48" stroke-width="0.9"/>
<circle cx="244.44" cy="566.38" r="3.40" fill="url(#gBlue)" stroke="#0b2b48" stroke-width="0.9"/>
<ellipse cx="285.22" cy="652.69" rx="4.18" ry="2.28" transform="rotate(2.5 285.22 652.69)" fill="url(#gBlue)" stroke="#0b2b48" stroke-width="0.9"/>
<ellipse cx="320.99" cy="558.83" rx="3.30" ry="1.80" transform="rotate(146.3 320.99 558.83)" fill="url(#gBlue)" stroke="#0b2b48" stroke-width="0.9"/>
<circle cx="306.38" cy="635.93" r="2.70" fill="url(#gBlue)" stroke="#0b2b48" stroke-width="0.9"/>
<circle cx="283.70" cy="557.11" r="3.00" fill="url(#gBlue)" stroke="#0b2b48" stroke-width="0.9"/>
<ellipse cx="242.01" cy="620.70" rx="2.64" ry="1.44" transform="rotate(94.9 242.01 620.70)" fill="url(#gBlue)" stroke="#0b2b48" stroke-width="0.9"/>
<circle cx="317.08" cy="619.39" r="3.80" fill="url(#gBlue)" stroke="#0b2b48" stroke-width="0.9"/>
<circle cx="315.70" cy="636.19" r="3.00" fill="url(#gBlue)" stroke="#0b2b48" stroke-width="0.9"/>
<ellipse cx="309.26" cy="554.66" rx="3.30" ry="1.80" transform="rotate(47.2 309.26 554.66)" fill="url(#gBlue)" stroke="#0b2b48" stroke-width="0.9"/>
<circle cx="278.93" cy="644.12" r="2.40" fill="url(#gBlue)" stroke="#0b2b48" stroke-width="0.9"/>
<circle cx="318.48" cy="573.71" r="3.00" fill="url(#gBlue)" stroke="#0b2b48" stroke-width="0.9"/>
<circle cx="344.58" cy="616.48" r="3.00" fill="url(#gBlue)" stroke="#0b2b48" stroke-width="0.9"/>
<circle cx="273.64" cy="651.91" r="2.40" fill="url(#gBlue)" stroke="#0b2b48" stroke-width="0.9"/>
<ellipse cx="243.55" cy="576.87" rx="3.30" ry="1.80" transform="rotate(157.5 243.55 576.87)" fill="url(#gBlue)" stroke="#0b2b48" stroke-width="0.9"/>
<ellipse cx="230.08" cy="593.86" rx="2.97" ry="1.62" transform="rotate(116.6 230.08 593.86)" fill="url(#gBlue)" stroke="#0b2b48" stroke-width="0.9"/>
<ellipse cx="319.81" cy="608.66" rx="3.30" ry="1.80" transform="rotate(116.0 319.81 608.66)" fill="url(#gBlue)" stroke="#0b2b48" stroke-width="0.9"/>
<ellipse cx="302.77" cy="660.56" rx="2.64" ry="1.44" transform="rotate(100.0 302.77 660.56)" fill="url(#gBlue)" stroke="#0b2b48" stroke-width="0.9"/>
<circle cx="314.89" cy="656.76" r="2.40" fill="url(#gBlue)" stroke="#0b2b48" stroke-width="0.9"/>
<circle cx="333.18" cy="570.76" r="3.80" fill="url(#gBlue)" stroke="#0b2b48" stroke-width="0.9"/>
<circle cx="292.62" cy="644.71" r="2.40" fill="url(#gBlue)" stroke="#0b2b48" stroke-width="0.9"/>
<circle cx="327.39" cy="589.23" r="2.40" fill="url(#gBlue)" stroke="#0b2b48" stroke-width="0.9"/>
<circle cx="333.69" cy="580.09" r="3.40" fill="url(#gBlue)" stroke="#0b2b48" stroke-width="0.9"/>
<circle cx="338.32" cy="629.46" r="3.00" fill="url(#gBlue)" stroke="#0b2b48" stroke-width="0.9"/>
<ellipse cx="327.47" cy="602.30" rx="2.97" ry="1.62" transform="rotate(163.7 327.47 602.30)" fill="url(#gBlue)" stroke="#0b2b48" stroke-width="0.9"/>
<circle cx="321.32" cy="653.07" r="3.00" fill="url(#gBlue)" stroke="#0b2b48" stroke-width="0.9"/>
<circle cx="307.81" cy="647.82" r="2.40" fill="url(#gBlue)" stroke="#0b2b48" stroke-width="0.9"/>
<circle cx="233.74" cy="581.39" r="3.80" fill="url(#gBlue)" stroke="#0b2b48" stroke-width="0.9"/>
<circle cx="271.05" cy="644.39" r="2.70" fill="url(#gBlue)" stroke="#0b2b48" stroke-width="0.9"/>
<ellipse cx="327.63" cy="630.55" rx="2.97" ry="1.62" transform="rotate(30.4 327.63 630.55)" fill="url(#gBlue)" stroke="#0b2b48" stroke-width="0.9"/>
<circle cx="251.77" cy="634.66" r="2.40" fill="url(#gBlue)" stroke="#0b2b48" stroke-width="0.9"/>
<ellipse cx="335.46" cy="642.03" rx="3.30" ry="1.80" transform="rotate(118.8 335.46 642.03)" fill="url(#gBlue)" stroke="#0b2b48" stroke-width="0.9"/>
<ellipse cx="332.89" cy="612.04" rx="3.74" ry="2.04" transform="rotate(98.1 332.89 612.04)" fill="url(#gBlue)" stroke="#0b2b48" stroke-width="0.9"/>
<circle cx="306.28" cy="564.29" r="3.00" fill="url(#gBlue)" stroke="#0b2b48" stroke-width="0.9"/>
<circle cx="294.36" cy="551.28" r="2.40" fill="url(#gBlue)" stroke="#0b2b48" stroke-width="0.9"/>
<circle cx="254.89" cy="645.65" r="2.70" fill="url(#gBlue)" stroke="#0b2b48" stroke-width="0.9"/>
<circle cx="266.96" cy="654.99" r="2.40" fill="url(#gBlue)" stroke="#0b2b48" stroke-width="0.9"/>
<circle cx="328.05" cy="620.80" r="3.40" fill="url(#gBlue)" stroke="#0b2b48" stroke-width="0.9"/>
<circle cx="289.34" cy="661.57" r="3.00" fill="url(#gBlue)" stroke="#0b2b48" stroke-width="0.9"/>
<circle cx="237.27" cy="601.13" r="2.70" fill="url(#gBlue)" stroke="#0b2b48" stroke-width="0.9"/>
<ellipse cx="273.25" cy="554.72" rx="2.64" ry="1.44" transform="rotate(34.7 273.25 554.72)" fill="url(#gBlue)" stroke="#0b2b48" stroke-width="0.9"/>
<ellipse cx="267.01" cy="546.32" rx="2.97" ry="1.62" transform="rotate(100.0 267.01 546.32)" fill="url(#gBlue)" stroke="#0b2b48" stroke-width="0.9"/>
<ellipse cx="299.94" cy="557.28" rx="2.97" ry="1.62" transform="rotate(98.7 299.94 557.28)" fill="url(#gBlue)" stroke="#0b2b48" stroke-width="0.9"/>
<circle cx="325.59" cy="579.86" r="2.40" fill="url(#gBlue)" stroke="#0b2b48" stroke-width="0.9"/>
<ellipse cx="301.42" cy="652.62" rx="2.97" ry="1.62" transform="rotate(125.8 301.42 652.62)" fill="url(#gBlue)" stroke="#0b2b48" stroke-width="0.9"/>
<circle cx="238.23" cy="611.65" r="3.40" fill="url(#gBlue)" stroke="#0b2b48" stroke-width="0.9"/>
<ellipse cx="319.36" cy="597.07" rx="2.64" ry="1.44" transform="rotate(128.9 319.36 597.07)" fill="url(#gBlue)" stroke="#0b2b48" stroke-width="0.9"/>
<ellipse cx="325.05" cy="566.16" rx="3.30" ry="1.80" transform="rotate(175.2 325.05 566.16)" fill="url(#gBlue)" stroke="#0b2b48" stroke-width="0.9"/>
<circle cx="281.82" cy="545.25" r="3.00" fill="url(#gBlue)" stroke="#0b2b48" stroke-width="0.9"/>
<circle cx="279.53" cy="661.73" r="2.70" fill="url(#gBlue)" stroke="#0b2b48" stroke-width="0.9"/>
<circle cx="300.92" cy="643.65" r="3.80" fill="url(#gBlue)" stroke="#0b2b48" stroke-width="0.9"/>
<circle cx="332.69" cy="650.77" r="2.40" fill="url(#gBlue)" stroke="#0b2b48" stroke-width="0.9"/>
<ellipse cx="309.86" cy="571.14" rx="2.64" ry="1.44" transform="rotate(49.4 309.86 571.14)" fill="url(#gBlue)" stroke="#0b2b48" stroke-width="0.9"/>
<ellipse cx="307.89" cy="655.42" rx="2.64" ry="1.44" transform="rotate(34.7 307.89 655.42)" fill="url(#gBlue)" stroke="#0b2b48" stroke-width="0.9"/>
<circle cx="337.74" cy="621.09" r="2.40" fill="url(#gBlue)" stroke="#0b2b48" stroke-width="0.9"/>
<circle cx="311.03" cy="626.53" r="2.40" fill="url(#gBlue)" stroke="#0b2b48" stroke-width="0.9"/>
<ellipse cx="327.48" cy="638.66" rx="3.74" ry="2.04" transform="rotate(51.5 327.48 638.66)" fill="url(#gBlue)" stroke="#0b2b48" stroke-width="0.9"/>
<circle cx="345.55" cy="625.62" r="2.70" fill="url(#gBlue)" stroke="#0b2b48" stroke-width="0.9"/>
<ellipse cx="253.24" cy="566.54" rx="3.74" ry="2.04" transform="rotate(176.5 253.24 566.54)" fill="url(#gBlue)" stroke="#0b2b48" stroke-width="0.9"/>
<ellipse cx="261.88" cy="640.32" rx="3.74" ry="2.04" transform="rotate(0.7 261.88 640.32)" fill="url(#gBlue)" stroke="#0b2b48" stroke-width="0.9"/>
<circle cx="303.12" cy="550.14" r="2.40" fill="url(#gBlue)" stroke="#0b2b48" stroke-width="0.9"/>
<ellipse cx="340.39" cy="586.36" rx="3.30" ry="1.80" transform="rotate(50.8 340.39 586.36)" fill="url(#gBlue)" stroke="#0b2b48" stroke-width="0.9"/>
<ellipse cx="266.26" cy="561.22" rx="2.64" ry="1.44" transform="rotate(71.9 266.26 561.22)" fill="url(#gBlue)" stroke="#0b2b48" stroke-width="0.9"/>
<circle cx="342.76" cy="636.37" r="2.70" fill="url(#gBlue)" stroke="#0b2b48" stroke-width="0.9"/>
<circle cx="235.68" cy="571.31" r="3.00" fill="url(#gBlue)" stroke="#0b2b48" stroke-width="0.9"/>
<circle cx="316.03" cy="565.55" r="2.40" fill="url(#gBlue)" stroke="#0b2b48" stroke-width="0.9"/>
<circle cx="319.94" cy="586.68" r="3.00" fill="url(#gBlue)" stroke="#0b2b48" stroke-width="0.9"/>
<circle cx="242.95" cy="629.17" r="2.40" fill="url(#gBlue)" stroke="#0b2b48" stroke-width="0.9"/>
<circle cx="320.97" cy="628.52" r="2.40" fill="url(#gBlue)" stroke="#0b2b48" stroke-width="0.9"/>
<circle cx="245.66" cy="557.77" r="2.70" fill="url(#gBlue)" stroke="#0b2b48" stroke-width="0.9"/>
<circle cx="266.50" cy="558.50" r="5.20" fill="url(#gBlue)" stroke="#0b2b48" stroke-width="0.8"/>
<circle cx="300.00" cy="623.50" r="2.80" fill="url(#gNavy)" stroke="#0a0a40" stroke-width="0.6"/>
<circle cx="323.8" cy="548.4" r="3.3" fill="url(#gBeige)" stroke="#707055" stroke-width="0.6"/>
<circle cx="333.7" cy="557.1" r="3.3" fill="url(#gBeige)" stroke="#707055" stroke-width="0.6"/>
<circle cx="343.4" cy="557.1" r="3.8" fill="url(#gBeige)" stroke="#707055" stroke-width="0.6"/>
<ellipse cx="240.5" cy="573" rx="6.5" ry="2.2" transform="rotate(-55 240.5 573)" fill="url(#gOr)" stroke="#6a4008" stroke-width="0.5"/>
<ellipse cx="249.5" cy="575.5" rx="6" ry="2.4" transform="rotate(-30 249.5 575.5)" fill="url(#gOr)" stroke="#6a4008" stroke-width="0.5"/>
<ellipse cx="310" cy="573.5" rx="7" ry="2.5" transform="rotate(35 310 573.5)" fill="url(#gOr)" stroke="#6a4008" stroke-width="0.5"/>
<ellipse cx="316" cy="580" rx="8" ry="2.4" transform="rotate(60 316 580)" fill="url(#gOr)" stroke="#6a4008" stroke-width="0.5"/>
<ellipse cx="319.5" cy="586" rx="6.5" ry="2.2" transform="rotate(75 319.5 586)" fill="url(#gOr)" stroke="#6a4008" stroke-width="0.5"/>
<ellipse cx="258.5" cy="642" rx="5" ry="2.2" transform="rotate(40 258.5 642)" fill="url(#gOr)" stroke="#6a4008" stroke-width="0.5"/>
<ellipse cx="260.5" cy="650" rx="5" ry="2.4" transform="rotate(95 260.5 650)" fill="url(#gOr)" stroke="#6a4008" stroke-width="0.5"/>
<rect x="262.50" y="679.40" width="87.30" height="2.90" fill="#000" stroke="none" stroke-width="1" />
<rect x="375" y="512.3" width="55.5" height="54.6" fill="#bbb" filter="url(#noise)"/>
<path d="M402,512.5 Q420,522 430,545" fill="none" stroke="#333" stroke-width="1.3"/><circle cx="398.3" cy="534.2" r="5" fill="none" stroke="#555" stroke-width="1.4"/>
<polygon points="388.5,517.5 387.5,525.5 400,525.8" fill="#e6e8b4" stroke="#6a6a48" stroke-width="0.6"/>
<rect x="381.30" y="560.60" width="19.70" height="2.60" fill="#000" stroke="none" stroke-width="1" />
<rect x="375.00" y="512.30" width="55.50" height="54.60" fill="none" stroke="#f0a33a" stroke-width="1.6" />
<rect x="375" y="569.7" width="55.5" height="54.6" fill="#bbb" filter="url(#noise)"/>
<circle cx="411.9" cy="602.5" r="5.5" fill="none" stroke="#555" stroke-width="1.4"/>
<polygon points="406.4,579.2 402.3,587.4 414.6,591.5" fill="#e6e8b4" stroke="#6a6a48" stroke-width="0.6"/>
<polygon points="420.7,601.1 421.5,610.7 427.8,609.3" fill="#e6e8b4" stroke="#6a6a48" stroke-width="0.6"/>
<rect x="381.30" y="618.00" width="19.70" height="2.60" fill="#000" stroke="none" stroke-width="1" />
<rect x="375.00" y="569.70" width="55.50" height="54.60" fill="none" stroke="#f0a33a" stroke-width="1.6" />
<rect x="375" y="627.0" width="55.5" height="54.6" fill="#bbb" filter="url(#noise)"/>
<path d="M393,628 Q416,640 429,666" fill="none" stroke="#111" stroke-width="2"/><circle cx="417.4" cy="669.4" r="6" fill="none" stroke="#555" stroke-width="1.4"/>
<polygon points="402.3,651.6 401.5,659.8 416,658.5" fill="#e6e8b4" stroke="#6a6a48" stroke-width="0.6"/>
<rect x="381.30" y="675.30" width="19.70" height="2.60" fill="#000" stroke="none" stroke-width="1" />
<rect x="375.00" y="627.00" width="55.50" height="54.60" fill="none" stroke="#f0a33a" stroke-width="1.6" />
<line x1="475.30" y1="531.20" x2="475.30" y2="664.40" stroke="#222" stroke-width="0.9" />
<line x1="471.30" y1="664.40" x2="475.30" y2="664.40" stroke="#222" stroke-width="0.9" />
<line x1="472.80" y1="642.20" x2="475.30" y2="642.20" stroke="#222" stroke-width="0.9" />
<line x1="471.30" y1="620.00" x2="475.30" y2="620.00" stroke="#222" stroke-width="0.9" />
<line x1="472.80" y1="597.80" x2="475.30" y2="597.80" stroke="#222" stroke-width="0.9" />
<line x1="471.30" y1="575.60" x2="475.30" y2="575.60" stroke="#222" stroke-width="0.9" />
<line x1="472.80" y1="553.40" x2="475.30" y2="553.40" stroke="#222" stroke-width="0.9" />
<line x1="471.30" y1="531.20" x2="475.30" y2="531.20" stroke="#222" stroke-width="0.9" />
<text x="469.00" y="667.55" font-size="9" text-anchor="end" fill="#222" >0</text>
<text x="469.00" y="623.15" font-size="9" text-anchor="end" fill="#222" >2</text>
<text x="469.00" y="578.75" font-size="9" text-anchor="end" fill="#222" >4</text>
<text x="469.00" y="534.35" font-size="9" text-anchor="end" fill="#222" >6</text>
<line x1="475.30" y1="664.40" x2="540.30" y2="664.40" stroke="#222" stroke-width="0.9" />
<rect x="489.30" y="608.60" width="36.50" height="55.80" fill="#d42fd8" stroke="#333" stroke-width="0.8" />
<line x1="507.40" y1="584.10" x2="507.40" y2="634.90" stroke="#222" stroke-width="0.9" />
<line x1="495.05" y1="584.10" x2="519.75" y2="584.10" stroke="#222" stroke-width="0.9" />
<line x1="495.05" y1="634.90" x2="519.75" y2="634.90" stroke="#222" stroke-width="0.9" />
<circle cx="502.60" cy="553.40" r="1.35" fill="#000"/>
<circle cx="505.80" cy="553.40" r="1.35" fill="#000"/>
<circle cx="509.00" cy="553.40" r="1.35" fill="#000"/>
<circle cx="512.20" cy="553.40" r="1.35" fill="#000"/>
<circle cx="504.20" cy="597.80" r="1.35" fill="#000"/>
<circle cx="507.40" cy="597.80" r="1.35" fill="#000"/>
<circle cx="510.60" cy="597.80" r="1.35" fill="#000"/>
<circle cx="501.00" cy="620.00" r="1.35" fill="#000"/>
<circle cx="504.20" cy="620.00" r="1.35" fill="#000"/>
<circle cx="507.40" cy="620.00" r="1.35" fill="#000"/>
<circle cx="510.60" cy="620.00" r="1.35" fill="#000"/>
<circle cx="513.80" cy="620.00" r="1.35" fill="#000"/>
<circle cx="499.40" cy="642.20" r="1.35" fill="#000"/>
<circle cx="502.60" cy="642.20" r="1.35" fill="#000"/>
<circle cx="505.80" cy="642.20" r="1.35" fill="#000"/>
<circle cx="509.00" cy="642.20" r="1.35" fill="#000"/>
<circle cx="512.20" cy="642.20" r="1.35" fill="#000"/>
<circle cx="515.40" cy="642.20" r="1.35" fill="#000"/>
<text x="508.30" y="530.98" font-size="8.5" text-anchor="middle" fill="#222" letter-spacing="-0.2" >n = 18</text>
<text x="505.80" y="674.80" font-size="10" text-anchor="middle" fill="#222" >T+</text>
<text transform="translate(454.04,600.00) rotate(-90)" font-size="8.4" text-anchor="middle" fill="#222" letter-spacing="-0.1">Number of  tethered SV (per synaptosome)</text>
<rect x="584.10" y="560.20" width="83.90" height="69.70" fill="#e9eaea" stroke="none" stroke-width="1" />
<line x1="584.10" y1="592.20" x2="669.40" y2="592.20" stroke="#888" stroke-width="0.9" stroke-dasharray="3,2"/>
<text x="624.80" y="567.47" font-size="8.2" text-anchor="middle" fill="#666" >random</text>
<line x1="583.30" y1="526.80" x2="583.30" y2="665.40" stroke="#222" stroke-width="0.9" />
<line x1="579.30" y1="665.40" x2="583.30" y2="665.40" stroke="#222" stroke-width="0.9" />
<line x1="580.80" y1="651.54" x2="583.30" y2="651.54" stroke="#222" stroke-width="0.9" />
<line x1="579.30" y1="637.68" x2="583.30" y2="637.68" stroke="#222" stroke-width="0.9" />
<line x1="580.80" y1="623.82" x2="583.30" y2="623.82" stroke="#222" stroke-width="0.9" />
<line x1="579.30" y1="609.96" x2="583.30" y2="609.96" stroke="#222" stroke-width="0.9" />
<line x1="580.80" y1="596.10" x2="583.30" y2="596.10" stroke="#222" stroke-width="0.9" />
<line x1="579.30" y1="582.24" x2="583.30" y2="582.24" stroke="#222" stroke-width="0.9" />
<line x1="580.80" y1="568.38" x2="583.30" y2="568.38" stroke="#222" stroke-width="0.9" />
<line x1="579.30" y1="554.52" x2="583.30" y2="554.52" stroke="#222" stroke-width="0.9" />
<line x1="580.80" y1="540.66" x2="583.30" y2="540.66" stroke="#222" stroke-width="0.9" />
<line x1="579.30" y1="526.80" x2="583.30" y2="526.80" stroke="#222" stroke-width="0.9" />
<text x="577.50" y="668.38" font-size="8.5" text-anchor="end" fill="#222" letter-spacing="-0.3" >0</text>
<text x="577.50" y="640.65" font-size="8.5" text-anchor="end" fill="#222" letter-spacing="-0.3" >200</text>
<text x="577.50" y="612.93" font-size="8.5" text-anchor="end" fill="#222" letter-spacing="-0.3" >400</text>
<text x="577.50" y="585.22" font-size="8.5" text-anchor="end" fill="#222" letter-spacing="-0.3" >600</text>
<text x="577.50" y="557.50" font-size="8.5" text-anchor="end" fill="#222" letter-spacing="-0.3" >800</text>
<text x="577.50" y="529.77" font-size="8.5" text-anchor="end" fill="#222" letter-spacing="-0.3" >1000</text>
<line x1="583.30" y1="665.40" x2="675.70" y2="665.40" stroke="#222" stroke-width="0.9" />
<rect x="597.00" y="635.40" width="25.90" height="30.00" fill="#d42fd8" stroke="#333" stroke-width="0.8" />
<rect x="636.10" y="651.20" width="26.50" height="14.20" fill="#48fe10" stroke="#333" stroke-width="0.8" />
<line x1="610.00" y1="665.40" x2="610.00" y2="668.50" stroke="#222" stroke-width="0.9" />
<line x1="649.30" y1="665.40" x2="649.30" y2="668.50" stroke="#222" stroke-width="0.9" />
<line x1="610.00" y1="630.40" x2="610.00" y2="640.40" stroke="#222" stroke-width="0.9" />
<line x1="603.00" y1="630.40" x2="617.00" y2="630.40" stroke="#222" stroke-width="0.9" />
<line x1="603.00" y1="640.40" x2="617.00" y2="640.40" stroke="#222" stroke-width="0.9" />
<line x1="649.30" y1="648.10" x2="649.30" y2="654.20" stroke="#222" stroke-width="0.9" />
<line x1="642.30" y1="648.10" x2="656.30" y2="648.10" stroke="#222" stroke-width="0.9" />
<line x1="642.30" y1="654.20" x2="656.30" y2="654.20" stroke="#222" stroke-width="0.9" />
<text x="610.60" y="675.42" font-size="7.5" text-anchor="middle" fill="#222" >DA (PM)</text>
<text x="650.30" y="675.42" font-size="7.5" text-anchor="middle" fill="#222" >GLU (AZ)</text>
<text x="610.60" y="533.08" font-size="8.8" text-anchor="middle" fill="#222" >n=30</text>
<text x="645.60" y="533.08" font-size="8.8" text-anchor="middle" fill="#222" >n=40</text>
<text x="628.40" y="513.18" font-size="8.8" text-anchor="middle" fill="#222" >&lt;0.0001</text>
<polygon points="621.30,516.50 621.86,517.84 623.30,517.95 622.20,518.89 622.53,520.30 621.30,519.55 620.07,520.30 620.40,518.89 619.30,517.95 620.74,517.84" fill="#222"/>
<polygon points="625.90,516.50 626.46,517.84 627.90,517.95 626.80,518.89 627.13,520.30 625.90,519.55 624.67,520.30 625.00,518.89 623.90,517.95 625.34,517.84" fill="#222"/>
<polygon points="630.50,516.50 631.06,517.84 632.50,517.95 631.40,518.89 631.73,520.30 630.50,519.55 629.27,520.30 629.60,518.89 628.50,517.95 629.94,517.84" fill="#222"/>
<polygon points="635.10,516.50 635.66,517.84 637.10,517.95 636.00,518.89 636.33,520.30 635.10,519.55 633.87,520.30 634.20,518.89 633.10,517.95 634.54,517.84" fill="#222"/>
<line x1="617.50" y1="521.90" x2="638.80" y2="521.90" stroke="#222" stroke-width="1.1" />
<text transform="translate(556.25,594.00) rotate(-90)" font-size="8.7" text-anchor="middle" fill="#222">Min. distance between two T+ SV (nm)</text>
<circle cx="608.30" cy="543.00" r="0.75" fill="#000"/>
<circle cx="611.30" cy="543.00" r="0.75" fill="#000"/>
<circle cx="610.00" cy="619.00" r="0.75" fill="#000"/>
<circle cx="610.00" cy="622.50" r="0.75" fill="#000"/>
<circle cx="610.00" cy="626.00" r="0.75" fill="#000"/>
<circle cx="610.00" cy="629.00" r="0.75" fill="#000"/>
<circle cx="609.19" cy="643.08" r="0.75" fill="#000"/>
<circle cx="602.05" cy="656.40" r="0.75" fill="#000"/>
<circle cx="599.14" cy="646.58" r="0.75" fill="#000"/>
<circle cx="618.76" cy="635.18" r="0.75" fill="#000"/>
<circle cx="611.19" cy="649.65" r="0.75" fill="#000"/>
<circle cx="599.90" cy="643.23" r="0.75" fill="#000"/>
<circle cx="614.48" cy="645.20" r="0.75" fill="#000"/>
<circle cx="614.95" cy="637.24" r="0.75" fill="#000"/>
<circle cx="604.24" cy="636.00" r="0.75" fill="#000"/>
<circle cx="610.14" cy="657.94" r="0.75" fill="#000"/>
<circle cx="611.99" cy="653.90" r="0.75" fill="#000"/>
<circle cx="607.44" cy="653.14" r="0.75" fill="#000"/>
<circle cx="601.24" cy="640.86" r="0.75" fill="#000"/>
<circle cx="613.83" cy="652.59" r="0.75" fill="#000"/>
<circle cx="608.28" cy="635.37" r="0.75" fill="#000"/>
<circle cx="604.87" cy="638.67" r="0.75" fill="#000"/>
<circle cx="605.19" cy="654.86" r="0.75" fill="#000"/>
<circle cx="603.39" cy="656.93" r="0.75" fill="#000"/>
<circle cx="618.35" cy="634.48" r="0.75" fill="#000"/>
<circle cx="607.33" cy="646.28" r="0.75" fill="#000"/>
<circle cx="599.52" cy="644.47" r="0.75" fill="#000"/>
<circle cx="618.94" cy="636.03" r="0.75" fill="#000"/>
<circle cx="647.80" cy="619.80" r="0.75" fill="#000"/>
<circle cx="650.60" cy="619.80" r="0.75" fill="#000"/>
<circle cx="647.00" cy="635.00" r="0.75" fill="#000"/>
<circle cx="649.00" cy="633.50" r="0.75" fill="#000"/>
<circle cx="651.00" cy="635.00" r="0.75" fill="#000"/>
<circle cx="648.00" cy="637.50" r="0.75" fill="#000"/>
<circle cx="650.00" cy="637.50" r="0.75" fill="#000"/>
<circle cx="651.73" cy="645.55" r="0.75" fill="#000"/>
<circle cx="651.31" cy="661.80" r="0.75" fill="#000"/>
<circle cx="642.67" cy="643.17" r="0.75" fill="#000"/>
<circle cx="639.92" cy="654.34" r="0.75" fill="#000"/>
<circle cx="638.40" cy="644.78" r="0.75" fill="#000"/>
<circle cx="649.43" cy="662.34" r="0.75" fill="#000"/>
<circle cx="647.66" cy="651.36" r="0.75" fill="#000"/>
<circle cx="652.69" cy="644.96" r="0.75" fill="#000"/>
<circle cx="651.34" cy="646.62" r="0.75" fill="#000"/>
<circle cx="652.00" cy="663.12" r="0.75" fill="#000"/>
<circle cx="639.25" cy="654.66" r="0.75" fill="#000"/>
<circle cx="651.95" cy="646.14" r="0.75" fill="#000"/>
<circle cx="644.17" cy="663.89" r="0.75" fill="#000"/>
<circle cx="660.95" cy="645.55" r="0.75" fill="#000"/>
<circle cx="654.23" cy="662.97" r="0.75" fill="#000"/>
<circle cx="643.45" cy="655.83" r="0.75" fill="#000"/>
<circle cx="638.99" cy="650.68" r="0.75" fill="#000"/>
<circle cx="653.50" cy="655.40" r="0.75" fill="#000"/>
<circle cx="655.82" cy="644.82" r="0.75" fill="#000"/>
<circle cx="645.99" cy="661.14" r="0.75" fill="#000"/>
<circle cx="651.44" cy="652.48" r="0.75" fill="#000"/>
<circle cx="647.25" cy="663.71" r="0.75" fill="#000"/>
<circle cx="651.21" cy="643.39" r="0.75" fill="#000"/>
<circle cx="656.39" cy="649.90" r="0.75" fill="#000"/>
<circle cx="647.97" cy="647.48" r="0.75" fill="#000"/>
<circle cx="648.21" cy="649.82" r="0.75" fill="#000"/>
<circle cx="640.04" cy="656.22" r="0.75" fill="#000"/>
<circle cx="640.37" cy="659.47" r="0.75" fill="#000"/>
<circle cx="638.58" cy="659.40" r="0.75" fill="#000"/>
<circle cx="656.57" cy="653.44" r="0.75" fill="#000"/>
</svg></body></html>
